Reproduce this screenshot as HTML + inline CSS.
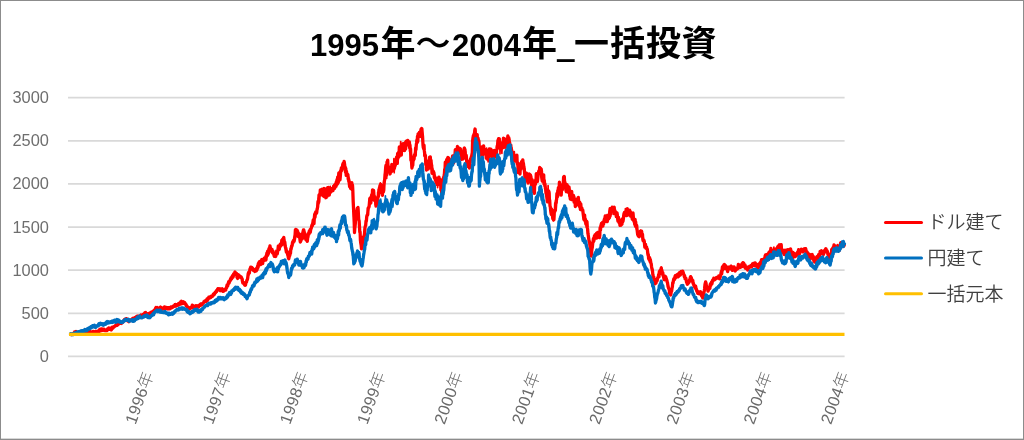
<!DOCTYPE html>
<html lang="ja"><head><meta charset="utf-8"><title>1995年～2004年_一括投資</title>
<style>
html,body{margin:0;padding:0;background:#fff;}
body{width:1024px;height:440px;overflow:hidden;}
svg{display:block;}
text{font-family:"Liberation Sans","Noto Sans CJK JP",sans-serif;}
.ax{font-size:16.4px;fill:#6e6e6e;}
.xl{font-size:16.4px;fill:#6a6a6a;letter-spacing:0.3px;}
.xk{font-weight:300;}
.lg{font-weight:350;font-size:19px;fill:#404040;}
.tn{font-weight:bold;font-size:31px;fill:#000;}
.tk{font-weight:bold;font-size:35px;fill:#000;}
</style></head><body>
<svg width="1024" height="440" viewBox="0 0 1024 440">
<rect x="0.5" y="0.5" width="1023" height="439" fill="#fff" stroke="#8c8c8c" stroke-width="1"/>
<line x1="0" x2="1024" y1="438.8" y2="438.8" stroke="#8c8c8c" stroke-width="0.5"/>
<line x1="68" x2="844.6" y1="97.7" y2="97.7" stroke="#d9d9d9" stroke-width="1.7"/>
<line x1="68" x2="844.6" y1="140.8" y2="140.8" stroke="#d9d9d9" stroke-width="1.7"/>
<line x1="68" x2="844.6" y1="183.95" y2="183.95" stroke="#d9d9d9" stroke-width="1.7"/>
<line x1="68" x2="844.6" y1="227.1" y2="227.1" stroke="#d9d9d9" stroke-width="1.7"/>
<line x1="68" x2="844.6" y1="270.2" y2="270.2" stroke="#d9d9d9" stroke-width="1.7"/>
<line x1="68" x2="844.6" y1="313.35" y2="313.35" stroke="#d9d9d9" stroke-width="1.7"/>
<line x1="68" x2="844.6" y1="356.4" y2="356.4" stroke="#d9d9d9" stroke-width="1.7"/>
<text x="48.9" y="103.1" text-anchor="end" class="ax">3000</text>
<text x="48.9" y="146.2" text-anchor="end" class="ax">2500</text>
<text x="48.9" y="189.3" text-anchor="end" class="ax">2000</text>
<text x="48.9" y="232.5" text-anchor="end" class="ax">1500</text>
<text x="48.9" y="275.6" text-anchor="end" class="ax">1000</text>
<text x="48.9" y="318.8" text-anchor="end" class="ax">500</text>
<text x="48.9" y="361.8" text-anchor="end" class="ax">0</text>
<polyline points="70.6,334.3 70.9,334.6 71.3,334.6 71.6,334.6 71.9,334.6 72.3,334.4 72.6,333.9 72.9,333.8 73.3,333.6 73.6,333.6 73.9,333.0 74.3,333.3 74.6,332.0 75.0,332.2 75.3,333.0 75.6,331.8 76.0,331.4 76.3,332.1 76.6,333.1 77.0,333.1 77.3,332.4 77.6,332.9 78.0,333.0 78.3,333.7 78.6,333.0 79.0,332.8 79.3,333.2 79.6,332.6 80.0,332.6 80.3,333.2 80.6,333.7 81.0,333.0 81.3,332.9 81.7,332.5 82.0,333.3 82.3,333.9 82.7,333.5 83.0,333.4 83.3,333.3 83.7,332.4 84.0,332.4 84.3,333.3 84.7,332.9 85.0,333.0 85.3,333.4 85.7,332.9 86.0,332.8 86.3,332.6 86.6,332.1 87.0,332.4 87.3,332.6 87.6,333.4 88.0,332.3 88.3,332.5 88.6,332.6 88.9,331.8 89.3,331.6 89.6,331.8 89.9,331.2 90.3,332.2 90.6,332.0 90.9,331.7 91.2,332.1 91.6,333.2 91.9,332.6 92.2,331.9 92.6,333.0 92.9,333.1 93.2,331.5 93.6,331.5 93.9,331.8 94.2,332.8 94.5,332.2 94.9,332.5 95.2,332.2 95.5,332.2 95.9,331.3 96.2,332.3 96.5,331.9 96.8,332.0 97.2,331.5 97.5,331.8 97.8,331.9 98.2,331.8 98.5,331.1 98.9,330.5 99.2,330.0 99.5,329.7 99.9,329.3 100.2,329.6 100.6,330.0 100.9,329.6 101.2,329.1 101.6,330.2 101.9,329.2 102.3,329.9 102.6,329.3 103.0,329.8 103.3,329.8 103.6,329.1 104.0,329.3 104.3,330.0 104.7,330.5 105.0,330.5 105.3,330.0 105.7,330.5 106.0,330.0 106.3,330.1 106.7,329.9 107.0,330.5 107.3,329.9 107.7,328.8 108.0,329.6 108.3,328.7 108.7,327.9 109.0,328.3 109.3,329.3 109.7,328.5 110.0,328.9 110.3,328.3 110.7,328.5 111.0,329.4 111.3,329.9 111.7,327.8 112.0,328.4 112.3,327.1 112.7,327.3 113.0,328.1 113.3,327.5 113.7,326.9 114.0,327.1 114.3,326.5 114.7,326.1 115.0,326.0 115.3,326.0 115.7,325.1 116.0,325.1 116.4,325.3 116.7,325.4 117.0,324.8 117.4,324.6 117.7,325.0 118.1,323.9 118.4,324.1 118.8,323.6 119.1,323.1 119.4,322.5 119.8,322.6 120.1,323.4 120.5,323.2 120.8,323.3 121.1,322.8 121.5,323.4 121.8,322.1 122.2,321.9 122.5,322.5 122.8,322.1 123.2,321.1 123.5,321.3 123.8,321.0 124.2,320.8 124.5,319.5 124.8,319.5 125.2,319.4 125.5,318.8 125.8,318.8 126.1,320.0 126.5,318.7 126.8,319.8 127.1,319.0 127.4,320.8 127.8,319.5 128.1,320.0 128.4,321.4 128.7,321.3 129.0,321.7 129.4,320.7 129.7,320.8 130.0,320.5 130.3,320.0 130.7,320.0 131.0,319.7 131.3,319.9 131.7,319.4 132.0,319.2 132.3,319.1 132.7,318.4 133.0,319.3 133.3,319.1 133.7,318.1 134.0,318.2 134.3,318.6 134.7,318.8 135.0,318.5 135.3,317.4 135.7,318.0 136.0,316.9 136.3,316.7 136.7,317.0 137.0,317.4 137.3,316.1 137.7,316.8 138.0,317.0 138.3,316.3 138.7,316.9 139.0,317.1 139.3,316.2 139.7,315.9 140.0,316.0 140.3,316.1 140.7,315.6 141.0,315.0 141.4,315.1 141.7,315.5 142.0,314.9 142.4,314.9 142.7,314.6 143.1,315.3 143.4,315.7 143.8,314.5 144.1,314.9 144.4,313.9 144.8,312.8 145.1,312.6 145.5,312.5 145.8,313.8 146.1,314.1 146.5,313.8 146.8,314.5 147.2,314.3 147.5,313.8 147.8,314.0 148.2,314.3 148.5,314.2 148.8,315.0 149.2,314.4 149.5,314.2 149.8,314.6 150.2,314.4 150.5,313.6 150.8,312.8 151.2,312.6 151.5,312.1 151.8,312.8 152.2,312.4 152.5,312.5 152.8,312.5 153.2,311.2 153.6,310.9 153.9,311.0 154.2,310.1 154.6,310.0 154.9,310.1 155.3,308.9 155.7,308.1 156.0,307.5 156.3,307.9 156.7,307.8 157.0,307.6 157.3,308.3 157.6,308.1 157.9,308.3 158.3,309.2 158.6,309.6 158.9,308.8 159.2,308.3 159.6,308.1 159.9,307.6 160.2,307.8 160.6,307.1 160.9,307.8 161.2,308.2 161.5,308.7 161.8,308.7 162.2,309.2 162.5,308.8 162.8,308.8 163.2,308.8 163.5,307.6 163.9,307.3 164.2,308.0 164.5,306.9 164.9,307.1 165.2,308.6 165.6,307.7 165.9,307.8 166.2,308.5 166.6,308.5 166.9,307.5 167.3,308.6 167.6,308.8 168.0,308.9 168.3,307.6 168.6,307.7 169.0,307.6 169.3,308.4 169.7,308.1 170.0,308.8 170.3,308.4 170.7,308.0 171.0,307.0 171.4,307.4 171.7,306.9 172.0,307.8 172.4,306.7 172.7,307.3 173.1,307.0 173.4,306.5 173.8,305.6 174.1,305.8 174.4,306.1 174.8,305.2 175.1,304.6 175.5,304.4 175.8,305.4 176.1,306.1 176.5,305.8 176.8,304.8 177.2,305.4 177.5,305.0 177.8,304.7 178.2,305.1 178.5,303.6 178.9,303.3 179.2,303.3 179.5,303.9 179.9,302.8 180.2,303.5 180.6,303.1 180.9,301.6 181.2,303.1 181.6,301.3 181.9,301.6 182.3,302.5 182.6,302.1 183.0,302.1 183.3,301.8 183.6,302.3 184.0,303.3 184.3,303.0 184.7,302.5 185.0,303.8 185.3,303.6 185.7,304.0 186.0,304.3 186.3,306.1 186.7,306.0 187.0,306.0 187.3,306.8 187.7,307.5 188.0,307.8 188.3,307.3 188.7,307.6 189.0,308.2 189.3,307.9 189.7,308.5 190.0,308.8 190.3,308.1 190.7,308.1 191.0,307.4 191.3,307.0 191.7,307.2 192.0,306.8 192.3,305.1 192.7,306.8 193.0,306.3 193.3,308.0 193.7,307.0 194.0,306.2 194.3,306.8 194.7,307.2 195.0,306.6 195.3,305.9 195.7,305.7 196.0,306.0 196.3,306.2 196.7,306.2 197.0,305.8 197.3,306.4 197.7,306.2 198.0,306.3 198.3,306.8 198.7,307.0 199.0,306.3 199.3,305.3 199.7,305.5 200.0,305.5 200.3,304.8 200.7,304.1 201.0,304.7 201.3,304.0 201.7,305.0 202.0,304.8 202.3,304.4 202.7,303.5 203.0,303.3 203.3,303.2 203.7,302.3 204.0,301.5 204.3,301.3 204.7,301.0 205.0,301.0 205.3,301.1 205.7,301.6 206.0,301.7 206.4,301.2 206.7,299.8 207.0,299.0 207.4,300.7 207.7,300.0 208.1,298.6 208.4,298.7 208.8,297.2 209.1,297.4 209.4,298.0 209.8,297.9 210.1,297.4 210.5,297.5 210.8,296.5 211.1,296.8 211.5,296.9 211.8,296.1 212.2,296.0 212.5,296.0 212.8,296.2 213.2,294.4 213.5,294.0 213.8,294.2 214.1,294.4 214.4,294.5 214.8,293.5 215.1,292.4 215.4,292.5 215.8,292.2 216.1,291.3 216.4,290.7 216.7,291.0 217.1,290.4 217.4,289.5 217.7,289.9 218.0,288.6 218.3,289.2 218.7,289.5 219.0,289.0 219.3,289.9 219.7,289.2 220.0,289.4 220.3,290.7 220.7,290.2 221.0,290.5 221.3,289.3 221.7,289.2 222.0,289.4 222.3,288.7 222.7,289.9 223.0,291.3 223.3,290.7 223.7,291.0 224.0,291.0 224.3,290.2 224.7,290.1 225.0,289.5 225.3,289.2 225.7,290.1 226.0,288.4 226.3,287.9 226.7,287.6 227.0,285.1 227.3,285.5 227.7,286.0 228.0,283.9 228.3,283.2 228.7,281.7 229.0,283.2 229.3,282.5 229.7,280.9 230.0,281.0 230.3,279.5 230.7,280.1 231.0,277.9 231.3,277.8 231.7,278.8 232.0,276.7 232.3,276.3 232.7,275.6 233.0,277.2 233.3,276.3 233.7,273.7 234.0,273.6 234.3,273.4 234.7,272.7 235.0,272.0 235.3,272.5 235.7,273.8 236.0,274.3 236.3,273.3 236.7,274.2 237.0,277.3 237.3,277.7 237.7,278.4 238.0,276.1 238.3,277.0 238.7,275.9 239.0,276.3 239.3,276.1 239.7,277.1 240.0,276.0 240.3,276.5 240.7,277.1 241.0,276.7 241.4,277.6 241.7,278.1 242.1,278.7 242.4,281.0 242.8,283.0 243.1,282.9 243.4,283.2 243.8,282.9 244.1,283.6 244.5,284.7 244.8,285.2 245.2,285.3 245.5,285.0 245.8,283.4 246.2,282.1 246.5,282.1 246.9,280.1 247.2,279.9 247.6,278.8 247.9,276.3 248.2,273.7 248.6,272.5 248.9,272.8 249.3,273.2 249.6,271.2 250.0,268.8 250.3,269.1 250.7,267.1 251.0,267.5 251.3,267.7 251.7,268.0 252.0,267.6 252.3,269.2 252.7,268.9 253.0,268.6 253.3,270.4 253.7,270.5 254.0,270.4 254.3,270.5 254.7,271.5 255.0,271.0 255.3,270.6 255.7,270.4 256.0,271.0 256.3,270.9 256.7,268.1 257.0,269.9 257.3,268.5 257.7,265.8 258.0,267.7 258.3,263.5 258.7,265.2 259.0,262.7 259.3,261.9 259.7,261.5 260.0,262.5 260.3,263.7 260.7,264.5 261.0,262.8 261.3,262.8 261.7,259.7 262.0,261.2 262.3,259.5 262.7,263.7 263.0,260.5 263.3,260.3 263.7,260.1 264.0,259.0 264.3,259.6 264.7,258.1 265.0,258.8 265.3,257.8 265.7,260.1 266.0,259.6 266.3,255.4 266.7,256.3 267.0,253.7 267.3,252.4 267.7,255.2 268.0,252.7 268.3,253.9 268.7,252.3 269.0,251.2 269.3,249.1 269.7,248.1 270.0,246.0 270.3,249.4 270.7,249.8 271.0,250.7 271.3,249.5 271.7,249.4 272.0,249.4 272.3,252.4 272.7,253.0 273.0,251.2 273.3,253.6 273.7,254.2 274.0,255.2 274.3,256.4 274.7,256.4 275.0,256.0 275.3,256.0 275.7,256.4 276.0,254.5 276.3,253.1 276.7,250.9 277.0,253.6 277.3,253.7 277.7,251.1 278.0,249.2 278.3,246.1 278.7,245.9 279.0,249.1 279.3,249.4 279.7,246.2 280.0,245.0 280.3,244.1 280.7,246.1 281.0,244.1 281.4,245.3 281.7,243.6 282.0,244.8 282.4,242.8 282.7,241.5 283.1,241.9 283.4,238.3 283.8,237.5 284.1,242.0 284.4,242.0 284.8,242.0 285.1,245.6 285.4,247.1 285.8,248.7 286.1,250.5 286.4,252.1 286.8,251.0 287.1,252.4 287.4,253.3 287.8,255.2 288.1,255.9 288.4,258.0 288.8,258.8 289.1,257.3 289.4,255.1 289.8,255.4 290.1,251.3 290.5,253.4 290.8,248.6 291.1,249.2 291.5,246.2 291.8,246.6 292.2,245.3 292.5,242.5 292.8,243.2 293.1,241.2 293.5,241.8 293.8,240.3 294.1,241.4 294.4,239.9 294.8,237.5 295.1,234.8 295.4,229.8 295.7,229.4 296.0,232.6 296.4,230.9 296.7,230.9 297.0,230.0 297.3,233.1 297.7,231.4 298.0,236.3 298.3,233.6 298.7,236.8 299.0,234.2 299.3,234.0 299.7,236.7 300.0,240.0 300.3,242.0 300.7,241.2 301.0,240.3 301.4,237.6 301.7,236.4 302.0,239.1 302.4,233.6 302.7,234.0 303.1,231.3 303.4,230.0 303.8,230.0 304.1,231.7 304.4,237.8 304.7,235.1 305.0,233.7 305.4,237.4 305.7,238.7 306.0,240.0 306.3,240.1 306.7,239.3 307.0,237.4 307.3,241.4 307.7,237.5 308.0,236.9 308.3,234.4 308.7,232.8 309.0,234.1 309.3,230.9 309.7,231.7 310.0,230.0 310.3,232.3 310.7,229.4 311.0,228.8 311.3,228.0 311.7,226.0 312.0,225.0 312.3,225.9 312.7,223.8 313.0,221.6 313.3,219.8 313.7,222.5 314.0,223.7 314.3,218.3 314.7,214.1 315.0,217.4 315.3,213.1 315.7,212.0 316.0,213.8 316.3,212.1 316.7,212.9 317.0,209.8 317.3,208.7 317.7,206.6 318.0,201.6 318.3,201.0 318.7,202.5 319.0,195.1 319.3,194.6 319.7,194.2 320.0,194.9 320.3,189.9 320.7,189.9 321.0,190.0 321.3,191.1 321.7,194.2 322.0,189.1 322.3,191.9 322.7,195.7 323.0,194.9 323.3,191.7 323.7,196.1 324.0,188.5 324.3,191.4 324.7,192.5 325.0,195.5 325.3,191.8 325.7,193.7 326.0,195.0 326.3,191.6 326.7,194.1 327.0,188.3 327.3,191.7 327.7,187.6 328.0,189.3 328.3,189.1 328.7,187.5 329.0,189.9 329.3,195.0 329.7,190.4 330.0,190.4 330.3,192.6 330.7,189.2 331.0,188.8 331.3,191.5 331.7,189.6 332.0,189.1 332.3,188.6 332.7,188.9 333.0,190.6 333.3,188.0 333.7,188.7 334.0,186.5 334.3,186.0 334.7,188.4 335.0,185.5 335.3,185.6 335.7,186.3 336.0,185.0 336.3,181.9 336.7,183.6 337.0,179.5 337.3,182.6 337.7,176.9 338.0,183.0 338.3,182.5 338.7,175.1 339.0,173.0 339.3,176.0 339.7,179.7 340.0,179.8 340.3,176.6 340.7,171.8 341.0,171.0 341.4,167.8 341.7,170.3 342.1,168.4 342.4,167.0 342.8,164.5 343.1,163.5 343.4,164.9 343.8,163.4 344.1,161.4 344.5,163.5 344.8,168.4 345.2,168.3 345.5,172.4 345.8,168.4 346.2,175.3 346.5,171.4 346.8,173.9 347.2,175.5 347.5,175.0 347.9,174.6 348.2,179.2 348.6,179.1 348.9,181.7 349.2,182.6 349.6,186.5 349.9,186.9 350.3,186.9 350.6,188.4 351.0,187.0 351.4,187.6 351.8,182.6 352.1,189.7 352.5,185.0 352.8,190.1 353.2,201.9 353.5,207.9 353.8,214.0 354.2,222.5 354.5,232.5 354.9,226.6 355.2,224.0 355.6,219.3 355.9,216.8 356.2,218.7 356.6,216.6 356.9,210.7 357.3,208.4 357.6,212.2 358.0,207.5 358.4,214.3 358.7,219.4 359.1,220.7 359.4,225.3 359.8,232.1 360.1,231.8 360.4,240.0 360.8,243.4 361.1,244.8 361.5,248.8 361.9,248.0 362.2,246.9 362.6,243.1 362.9,240.3 363.2,237.2 363.6,239.5 363.9,237.6 364.3,235.6 364.6,232.6 365.0,227.5 365.3,226.2 365.7,225.3 366.0,221.1 366.4,220.9 366.7,216.8 367.0,215.3 367.4,215.3 367.7,214.6 368.1,208.4 368.4,207.7 368.8,207.5 369.1,206.5 369.4,203.3 369.8,198.5 370.1,198.0 370.5,199.0 370.8,203.1 371.1,200.0 371.5,196.0 371.8,194.7 372.2,197.6 372.5,190.0 372.9,192.0 373.2,194.1 373.6,190.3 373.9,194.5 374.2,200.1 374.6,196.3 374.9,197.7 375.3,199.4 375.6,201.0 376.0,206.0 376.3,205.9 376.7,204.5 377.0,201.0 377.3,203.4 377.7,199.1 378.0,197.2 378.3,196.8 378.7,194.1 379.0,192.4 379.3,188.2 379.7,189.0 380.0,185.5 380.3,186.8 380.7,184.5 381.0,185.4 381.4,188.4 381.7,192.6 382.0,191.4 382.4,195.4 382.7,186.1 383.1,191.2 383.4,191.9 383.8,190.0 384.1,182.8 384.4,180.9 384.7,179.6 385.0,175.0 385.3,172.6 385.7,167.3 386.0,165.3 386.4,165.4 386.7,168.8 387.0,161.9 387.4,165.2 387.7,160.1 388.0,166.4 388.4,171.9 388.7,166.8 389.1,168.2 389.4,170.0 389.7,172.0 390.1,174.0 390.4,168.6 390.8,167.6 391.1,170.9 391.5,171.8 391.8,164.3 392.2,167.4 392.5,167.5 392.8,168.2 393.2,165.8 393.5,170.3 393.9,164.7 394.2,168.5 394.5,167.8 394.9,165.4 395.2,165.7 395.6,162.8 395.9,159.0 396.2,161.2 396.6,156.9 396.9,158.2 397.3,163.4 397.6,153.5 398.0,158.5 398.3,152.7 398.6,156.8 399.0,156.7 399.3,147.0 399.7,147.9 400.0,147.5 400.3,149.4 400.7,152.2 401.0,150.4 401.3,155.2 401.7,148.9 402.0,146.8 402.3,144.2 402.7,150.7 403.0,145.6 403.3,146.0 403.6,150.1 404.0,144.9 404.3,144.8 404.6,150.5 404.9,144.4 405.2,142.9 405.6,149.1 405.9,146.3 406.2,141.1 406.5,144.7 406.9,141.7 407.2,145.0 407.5,142.5 407.8,140.5 408.1,140.8 408.4,144.4 408.8,142.9 409.1,144.7 409.4,142.0 409.7,148.2 410.0,145.0 410.3,151.1 410.6,148.9 410.9,160.2 411.3,158.3 411.6,163.0 411.9,168.0 412.2,166.6 412.5,164.7 412.8,165.1 413.1,159.1 413.5,160.3 413.8,156.7 414.1,159.2 414.4,155.0 414.7,154.7 415.0,154.6 415.3,155.4 415.6,148.0 416.0,149.6 416.3,144.8 416.6,142.8 416.9,140.0 417.2,142.6 417.5,136.2 417.8,141.5 418.1,134.0 418.5,133.6 418.8,134.8 419.1,135.2 419.4,132.5 419.7,133.6 420.0,134.9 420.3,136.5 420.6,133.0 421.0,132.9 421.3,132.6 421.6,128.4 421.9,128.8 422.3,133.9 422.6,137.0 423.0,145.0 423.3,147.5 423.7,148.7 424.0,145.2 424.3,150.4 424.7,153.7 425.0,156.2 425.4,155.2 425.8,164.8 426.1,164.1 426.5,170.0 426.9,167.6 427.2,166.2 427.6,166.5 427.9,164.9 428.2,169.1 428.6,160.6 428.9,164.5 429.3,161.4 429.6,157.2 430.0,159.0 430.3,156.8 430.7,163.7 431.0,160.2 431.3,168.5 431.7,165.1 432.0,173.3 432.3,171.5 432.7,171.5 433.0,171.0 433.3,172.3 433.6,171.9 434.0,173.1 434.3,177.5 434.6,176.2 434.9,177.4 435.3,180.0 435.6,178.0 435.9,181.9 436.2,182.5 436.6,182.9 436.9,184.3 437.3,183.5 437.6,182.6 438.0,184.7 438.3,184.2 438.7,179.4 439.0,177.2 439.4,180.0 439.7,181.1 440.0,182.2 440.3,179.5 440.6,180.3 440.9,182.7 441.2,190.0 441.6,189.2 441.9,192.0 442.3,188.6 442.6,186.3 443.0,184.6 443.3,183.9 443.7,177.1 444.0,175.9 444.4,174.0 444.7,169.1 445.0,171.1 445.3,162.1 445.6,166.3 446.0,169.2 446.3,161.9 446.6,160.0 446.9,160.0 447.2,159.4 447.6,164.0 447.9,157.3 448.3,162.9 448.6,157.8 449.0,160.7 449.3,159.4 449.7,159.4 450.0,164.0 450.3,165.7 450.6,162.9 450.9,165.8 451.3,165.2 451.6,162.8 451.9,163.8 452.2,160.3 452.6,155.9 452.9,163.5 453.3,162.8 453.6,163.0 454.0,157.1 454.3,158.8 454.7,157.1 455.0,154.5 455.3,149.6 455.7,151.7 456.0,150.5 456.4,152.2 456.7,151.9 457.0,154.1 457.4,146.5 457.7,149.1 458.0,148.4 458.4,149.5 458.7,149.5 459.1,148.2 459.4,148.8 459.7,150.5 460.0,150.8 460.3,148.7 460.6,149.9 460.9,154.7 461.2,152.5 461.6,159.4 461.9,153.7 462.2,157.7 462.5,157.0 462.8,158.3 463.1,158.9 463.4,153.4 463.8,157.7 464.1,148.5 464.4,148.1 464.7,151.6 465.0,149.5 465.3,154.2 465.6,157.9 465.9,155.1 466.2,155.2 466.6,159.9 466.9,164.7 467.2,163.4 467.5,163.2 467.8,161.2 468.1,166.6 468.4,164.0 468.8,165.8 469.1,161.4 469.4,168.0 469.7,166.3 470.0,163.0 470.3,160.7 470.6,158.8 470.9,158.4 471.3,157.0 471.6,158.4 471.9,154.5 472.3,152.5 472.6,141.0 473.0,137.8 473.4,135.6 473.7,137.8 474.1,133.9 474.4,135.9 474.8,130.2 475.1,129.0 475.5,136.2 475.8,140.5 476.2,141.2 476.5,139.3 476.9,136.5 477.2,134.7 477.5,139.8 477.8,143.5 478.1,138.2 478.4,142.2 478.8,140.5 479.1,145.2 479.4,151.3 479.7,147.1 480.0,152.5 480.3,149.3 480.7,151.6 481.0,154.6 481.3,148.6 481.7,153.4 482.0,157.4 482.3,153.1 482.7,155.0 483.0,151.5 483.3,147.3 483.6,145.9 484.0,149.4 484.3,151.2 484.6,149.8 485.0,150.0 485.3,153.7 485.6,150.5 485.9,149.7 486.2,158.2 486.6,157.0 486.9,153.2 487.2,153.0 487.5,157.0 487.8,156.5 488.1,150.4 488.4,157.5 488.8,152.8 489.1,151.8 489.4,148.8 489.7,149.8 490.0,151.5 490.3,156.1 490.7,149.2 491.0,150.7 491.3,155.0 491.7,152.5 492.0,151.0 492.3,157.3 492.7,152.1 493.0,153.8 493.3,154.9 493.6,161.3 494.0,161.3 494.3,150.4 494.6,151.9 495.0,151.0 495.3,153.4 495.6,156.0 495.9,155.2 496.2,156.4 496.6,150.4 496.9,148.5 497.2,146.0 497.5,146.0 497.9,140.7 498.2,140.1 498.6,138.7 499.0,140.5 499.3,138.8 499.6,147.4 500.0,145.1 500.3,148.0 500.6,148.0 500.9,142.8 501.2,146.3 501.6,143.2 501.9,147.6 502.2,148.0 502.5,146.8 502.8,145.0 503.1,146.0 503.4,138.2 503.8,142.8 504.1,141.5 504.4,143.0 504.7,139.5 505.0,141.9 505.3,145.0 505.6,141.2 506.0,144.9 506.3,146.4 506.6,146.7 506.9,143.0 507.2,141.7 507.5,141.0 507.8,136.0 508.1,137.1 508.5,143.1 508.8,137.7 509.1,143.4 509.4,141.8 509.7,144.5 510.0,144.6 510.3,148.3 510.6,152.1 510.9,150.5 511.2,148.0 511.6,150.2 511.9,151.5 512.3,159.7 512.6,153.9 513.0,155.5 513.3,152.8 513.7,154.4 514.0,158.7 514.3,161.0 514.7,157.4 515.0,156.8 515.3,155.9 515.6,157.5 515.9,159.7 516.2,159.8 516.6,160.3 516.9,155.2 517.2,164.0 517.5,163.0 517.8,162.8 518.1,172.5 518.5,163.7 518.8,168.1 519.1,166.8 519.4,169.2 519.7,171.6 520.0,174.0 520.3,167.2 520.6,169.6 520.9,166.8 521.2,164.2 521.6,161.7 521.9,162.0 522.2,164.8 522.5,161.5 522.8,159.8 523.1,162.8 523.4,163.1 523.8,166.8 524.1,169.1 524.4,170.8 524.7,173.8 525.0,179.9 525.3,178.5 525.6,175.5 525.9,178.8 526.2,175.4 526.5,173.1 526.9,181.2 527.2,176.7 527.5,180.0 527.8,180.1 528.1,183.0 528.4,177.7 528.8,181.5 529.1,174.0 529.4,180.1 529.7,178.6 530.0,175.0 530.3,176.8 530.6,175.4 530.9,177.3 531.2,178.4 531.6,187.1 531.9,188.0 532.2,179.7 532.5,184.5 532.8,187.7 533.1,191.6 533.4,185.9 533.8,192.0 534.1,188.3 534.4,193.3 534.7,183.2 535.0,184.8 535.3,184.4 535.6,180.0 536.0,181.3 536.3,173.6 536.6,178.3 537.0,179.5 537.4,181.6 537.7,179.4 538.0,175.6 538.4,173.3 538.8,171.5 539.1,170.6 539.4,170.9 539.7,167.3 540.0,169.1 540.3,169.3 540.6,171.7 540.9,168.9 541.2,169.0 541.6,176.7 542.0,179.6 542.3,181.2 542.6,179.6 543.0,177.5 543.3,179.0 543.7,174.9 544.0,183.9 544.3,180.3 544.7,185.5 545.0,183.8 545.3,188.0 545.6,188.7 546.0,193.3 546.3,189.6 546.6,193.7 546.9,197.5 547.2,200.4 547.5,201.9 547.8,200.4 548.1,201.3 548.4,192.2 548.8,191.2 549.1,193.2 549.4,199.7 549.7,200.3 550.0,205.9 550.3,206.8 550.6,210.0 550.9,212.0 551.2,214.2 551.5,208.9 551.9,212.8 552.2,211.5 552.5,216.0 552.8,218.8 553.2,215.6 553.5,220.0 553.9,219.7 554.2,213.4 554.6,210.4 555.0,211.2 555.3,210.0 555.6,203.0 555.9,203.1 556.2,200.8 556.6,199.5 556.9,193.5 557.2,197.3 557.5,196.2 557.8,190.3 558.1,191.6 558.4,187.6 558.8,187.2 559.1,191.5 559.4,182.2 559.7,186.4 560.0,189.4 560.3,189.5 560.6,186.2 560.9,192.5 561.2,195.2 561.6,188.4 561.9,190.2 562.2,185.6 562.5,188.8 562.9,183.7 563.2,185.8 563.6,177.0 564.0,177.5 564.3,176.5 564.6,182.1 565.0,182.4 565.3,185.0 565.6,187.5 565.9,190.0 566.3,191.7 566.6,189.2 567.0,184.6 567.3,190.2 567.7,185.8 568.0,188.8 568.3,189.9 568.7,192.7 569.0,186.9 569.3,189.4 569.7,196.1 570.0,196.2 570.3,199.0 570.7,197.1 571.0,195.5 571.4,199.5 571.7,191.3 572.0,196.8 572.4,199.6 572.7,198.0 573.1,199.5 573.4,195.4 573.8,196.5 574.1,202.2 574.4,199.0 574.7,199.6 575.0,199.1 575.3,206.5 575.6,206.1 575.9,200.8 576.2,202.0 576.6,201.5 576.9,204.7 577.3,202.1 577.6,204.7 578.0,197.8 578.3,197.4 578.7,202.2 579.0,204.5 579.4,206.3 579.7,202.2 580.0,205.9 580.4,209.6 580.8,203.8 581.1,208.9 581.5,209.6 581.8,207.8 582.1,209.4 582.5,210.0 582.8,210.2 583.2,214.1 583.5,216.2 583.9,219.6 584.2,216.9 584.6,215.2 584.9,220.9 585.3,218.8 585.6,222.5 585.9,224.2 586.3,224.2 586.6,221.1 587.0,222.0 587.3,227.2 587.7,229.8 588.0,233.8 588.3,235.6 588.7,238.4 589.0,240.6 589.3,241.5 589.7,242.8 590.0,246.2 590.3,251.1 590.6,251.6 590.9,254.0 591.2,256.0 591.6,252.0 592.0,248.6 592.4,246.7 592.8,242.5 593.1,241.4 593.4,238.6 593.7,241.4 594.0,240.1 594.4,235.9 594.7,236.5 595.0,235.0 595.3,236.2 595.7,234.4 596.0,236.4 596.4,234.8 596.7,238.1 597.0,234.6 597.4,234.8 597.7,232.5 598.1,233.5 598.4,235.9 598.8,235.0 599.1,235.9 599.5,237.6 599.8,235.3 600.1,227.7 600.5,230.2 600.9,225.3 601.2,224.4 601.5,223.4 601.9,223.8 602.2,225.5 602.6,222.9 602.9,226.2 603.2,222.2 603.6,223.9 603.9,221.9 604.3,219.3 604.6,221.4 604.9,218.0 605.3,215.8 605.6,218.8 605.9,220.7 606.3,218.6 606.6,221.6 607.0,219.4 607.3,221.6 607.7,218.5 608.0,215.5 608.4,216.2 608.7,218.8 609.1,215.9 609.4,216.2 609.7,211.5 610.1,208.7 610.4,212.9 610.8,211.2 611.1,211.3 611.5,209.7 611.8,210.8 612.2,207.1 612.5,208.5 612.8,208.3 613.2,211.4 613.5,207.4 613.9,213.6 614.2,207.1 614.6,212.5 614.9,210.5 615.3,212.0 615.6,213.8 616.0,212.5 616.3,216.6 616.6,214.5 617.0,212.8 617.4,215.6 617.7,219.0 618.0,221.3 618.4,217.1 618.8,220.0 619.1,222.8 619.4,222.3 619.7,221.4 620.0,225.3 620.3,220.9 620.6,221.8 620.9,224.3 621.2,225.0 621.6,223.7 622.0,224.1 622.3,218.8 622.6,222.0 623.0,221.3 623.4,218.8 623.7,215.6 624.0,213.5 624.4,212.5 624.7,213.0 625.1,214.0 625.4,212.3 625.7,213.3 626.0,215.5 626.4,212.5 626.7,215.0 627.0,215.4 627.3,208.6 627.7,214.2 628.0,211.5 628.3,214.8 628.6,213.0 629.0,214.9 629.3,210.3 629.6,210.2 630.0,212.1 630.3,211.4 630.6,216.2 630.9,213.4 631.2,213.8 631.6,215.2 632.0,217.5 632.3,219.3 632.6,218.9 633.0,212.9 633.4,217.6 633.7,220.2 634.0,221.3 634.4,221.2 634.7,224.4 635.1,219.4 635.4,226.1 635.7,221.8 636.0,226.7 636.4,225.0 636.7,225.6 637.0,229.1 637.3,231.6 637.7,234.9 638.0,235.0 638.3,235.9 638.6,232.9 639.0,236.3 639.3,236.7 639.6,235.5 640.0,235.2 640.3,231.2 640.6,233.2 640.9,230.9 641.2,231.2 641.6,231.2 641.9,232.9 642.2,234.1 642.5,234.3 642.8,239.1 643.1,240.8 643.4,240.5 643.8,240.0 644.1,240.9 644.5,243.5 644.8,247.2 645.1,246.2 645.5,244.4 645.9,248.4 646.2,247.1 646.5,246.8 646.9,248.8 647.3,249.1 647.6,251.7 648.0,255.0 648.3,254.5 648.6,258.4 649.0,259.5 649.3,258.9 649.6,257.7 650.0,261.7 650.3,259.4 650.6,261.2 650.9,263.2 651.2,263.8 651.5,266.2 651.9,268.8 652.2,269.1 652.5,271.2 652.8,274.3 653.1,276.2 653.4,277.6 653.8,277.1 654.1,280.0 654.4,279.1 654.7,282.0 655.0,283.8 655.3,282.2 655.7,281.8 656.0,283.1 656.3,279.4 656.7,280.4 657.0,281.1 657.3,280.1 657.7,277.7 658.0,277.5 658.3,277.1 658.6,274.6 659.0,276.8 659.3,271.7 659.6,274.1 660.0,270.7 660.3,272.0 660.6,271.1 660.9,269.5 661.2,268.0 661.6,269.8 661.9,270.2 662.2,273.3 662.5,273.8 662.8,272.6 663.1,275.6 663.4,276.1 663.8,278.0 664.1,279.7 664.4,279.3 664.7,279.7 665.0,277.3 665.3,276.3 665.6,278.5 665.9,277.2 666.2,278.8 666.6,280.2 666.9,280.2 667.2,282.2 667.5,282.7 667.8,284.7 668.1,286.7 668.4,287.6 668.8,288.8 669.1,289.0 669.4,291.0 669.7,293.7 670.0,293.8 670.3,294.2 670.6,295.0 671.0,293.5 671.3,290.7 671.6,291.2 672.0,288.3 672.4,286.7 672.7,282.7 673.0,283.2 673.4,280.9 673.8,278.8 674.1,279.2 674.4,278.5 674.8,279.1 675.1,276.1 675.5,275.5 675.8,277.6 676.1,275.6 676.5,275.7 676.8,276.5 677.2,274.8 677.5,275.6 677.8,275.1 678.2,276.9 678.5,275.8 678.9,273.2 679.2,272.9 679.6,273.0 679.9,272.5 680.3,275.1 680.6,273.8 680.9,272.3 681.3,271.4 681.6,272.8 682.0,271.5 682.3,271.3 682.7,271.2 683.0,271.9 683.3,272.9 683.6,274.3 684.0,274.7 684.3,276.7 684.6,275.6 685.0,278.8 685.3,278.8 685.6,278.8 685.9,278.2 686.3,280.7 686.6,282.5 687.0,281.8 687.3,284.3 687.7,282.8 688.0,283.8 688.3,282.2 688.6,281.4 689.0,282.4 689.3,281.7 689.6,279.7 690.0,280.0 690.3,277.3 690.6,276.6 690.9,278.1 691.2,277.5 691.6,278.6 691.9,280.1 692.2,281.2 692.5,280.8 692.8,280.5 693.1,283.6 693.4,283.1 693.8,285.0 694.1,286.2 694.4,286.0 694.8,287.2 695.1,286.5 695.5,286.0 695.8,287.0 696.1,289.4 696.5,289.2 696.8,291.2 697.2,290.8 697.5,292.5 697.8,293.4 698.2,293.3 698.5,291.8 698.9,293.5 699.2,293.1 699.6,293.9 699.9,291.9 700.3,291.7 700.6,291.9 700.9,292.2 701.3,294.3 701.6,295.9 702.0,295.2 702.3,296.9 702.7,298.0 703.0,298.0 703.3,295.8 703.6,294.6 704.0,292.2 704.3,290.7 704.6,288.7 705.0,284.3 705.3,283.1 705.6,281.9 705.9,282.6 706.3,284.9 706.6,286.3 707.0,286.8 707.3,288.6 707.7,289.5 708.0,291.2 708.3,290.2 708.6,289.6 709.0,289.0 709.3,288.1 709.6,288.4 709.9,288.4 710.2,284.5 710.6,283.7 710.9,285.4 711.2,283.2 711.5,282.2 711.9,283.9 712.2,282.4 712.5,280.6 712.8,279.9 713.2,279.9 713.5,279.4 713.8,278.1 714.2,280.0 714.5,279.0 714.8,278.8 715.2,278.8 715.5,279.0 715.8,278.5 716.2,278.3 716.5,277.4 716.8,277.4 717.2,277.2 717.5,277.5 717.8,277.4 718.1,278.1 718.4,277.6 718.8,276.0 719.1,276.7 719.4,277.8 719.7,278.9 720.0,278.0 720.3,275.9 720.7,275.0 721.0,273.2 721.4,271.3 721.7,273.9 722.0,270.8 722.4,266.9 722.7,270.1 723.1,267.5 723.4,266.0 723.8,265.0 724.1,265.9 724.5,264.5 724.8,268.3 725.1,266.9 725.5,265.6 725.9,266.3 726.2,268.1 726.5,268.1 726.9,269.4 727.2,268.5 727.6,271.6 727.9,270.2 728.3,267.2 728.6,268.7 729.0,267.7 729.3,267.6 729.7,268.8 730.0,267.6 730.3,268.0 730.7,267.1 731.0,266.1 731.3,266.3 731.7,269.0 732.0,269.2 732.3,270.4 732.7,267.1 733.0,269.8 733.3,270.0 733.7,269.3 734.0,266.8 734.3,267.7 734.7,270.3 735.0,270.1 735.3,271.0 735.7,268.6 736.0,269.2 736.4,269.5 736.7,268.1 737.0,268.1 737.4,268.8 737.7,268.6 738.0,267.1 738.4,264.3 738.7,266.2 739.1,266.1 739.4,266.4 739.7,266.0 740.1,267.5 740.4,265.4 740.7,266.7 741.0,265.6 741.4,266.3 741.7,266.7 742.0,264.0 742.3,264.9 742.7,263.9 743.0,262.6 743.3,263.6 743.6,262.9 744.0,264.6 744.3,266.0 744.6,267.0 745.0,264.9 745.3,268.0 745.6,267.8 745.9,267.4 746.2,266.9 746.6,267.3 746.9,268.9 747.2,267.5 747.6,270.1 747.9,267.3 748.2,268.8 748.6,268.3 748.9,266.6 749.3,267.7 749.6,267.5 749.9,266.1 750.3,266.5 750.6,265.8 751.0,265.5 751.3,265.3 751.6,267.1 752.0,266.3 752.4,263.9 752.7,264.8 753.0,264.8 753.4,263.4 753.8,263.9 754.1,264.7 754.5,263.4 754.8,265.8 755.1,262.9 755.5,264.5 755.9,263.7 756.2,265.7 756.5,266.2 756.9,266.4 757.2,266.3 757.6,264.9 757.9,266.6 758.2,268.1 758.6,264.4 758.9,266.3 759.3,265.1 759.6,266.3 759.9,263.1 760.3,264.7 760.6,262.6 761.0,263.7 761.3,260.5 761.6,259.6 762.0,259.9 762.4,263.0 762.7,259.9 763.0,259.5 763.4,259.3 763.8,259.5 764.1,261.6 764.4,259.9 764.8,258.7 765.1,256.1 765.5,255.0 765.8,255.8 766.1,255.9 766.5,254.8 766.8,256.3 767.2,254.5 767.5,254.5 767.8,254.9 768.2,254.6 768.5,256.2 768.9,255.1 769.2,252.3 769.5,254.4 769.9,252.9 770.2,251.2 770.5,252.4 770.9,248.3 771.2,250.7 771.6,250.3 771.9,250.8 772.2,251.5 772.6,250.9 772.9,251.9 773.2,251.3 773.6,251.4 773.9,253.9 774.2,249.9 774.6,250.5 774.9,249.5 775.2,249.3 775.6,250.9 775.9,249.6 776.2,250.1 776.6,251.0 776.9,248.5 777.3,247.8 777.6,249.6 777.9,246.3 778.3,249.4 778.6,246.0 778.9,248.4 779.3,245.6 779.6,244.9 779.9,248.0 780.3,246.0 780.6,245.1 780.9,245.9 781.2,244.7 781.5,249.7 781.9,250.7 782.2,251.3 782.5,252.0 782.8,252.2 783.2,252.6 783.5,252.0 783.9,250.4 784.2,254.3 784.5,252.1 784.9,251.0 785.2,250.2 785.6,252.0 785.9,255.0 786.2,253.2 786.6,253.1 786.9,250.0 787.2,249.8 787.6,252.9 787.9,250.4 788.2,250.2 788.6,253.2 788.9,249.7 789.2,249.4 789.6,252.2 789.9,252.8 790.2,253.6 790.6,248.9 790.9,251.2 791.2,251.4 791.6,252.7 791.9,255.4 792.3,253.5 792.6,254.7 792.9,252.4 793.3,257.3 793.6,254.3 793.9,256.8 794.3,253.5 794.6,256.5 794.9,254.1 795.3,256.2 795.6,256.4 795.9,254.4 796.3,255.9 796.6,254.2 796.9,253.5 797.3,253.0 797.6,252.1 797.9,254.5 798.3,251.4 798.6,249.7 798.9,254.0 799.3,251.7 799.6,253.8 799.9,251.9 800.3,249.9 800.6,250.1 800.9,250.1 801.3,249.3 801.6,250.4 802.0,251.1 802.3,251.1 802.6,250.6 803.0,251.9 803.3,250.6 803.6,250.4 804.0,248.9 804.3,250.6 804.7,248.8 805.0,250.8 805.3,248.8 805.7,248.7 806.0,250.3 806.4,251.1 806.7,251.3 807.0,252.3 807.4,254.5 807.7,252.6 808.1,255.5 808.4,255.7 808.8,255.8 809.1,257.0 809.5,255.1 809.8,254.5 810.1,258.5 810.5,255.3 810.9,256.2 811.2,256.8 811.5,256.0 811.9,255.1 812.2,254.5 812.6,257.7 812.9,259.2 813.3,256.4 813.6,259.9 814.0,261.4 814.3,260.5 814.7,262.0 815.0,261.4 815.3,259.4 815.7,258.7 816.0,258.5 816.4,257.9 816.7,256.9 817.0,256.6 817.4,258.3 817.7,258.9 818.1,256.8 818.4,255.3 818.8,254.5 819.1,256.8 819.4,255.1 819.8,256.4 820.1,251.3 820.5,252.6 820.8,252.7 821.1,251.2 821.5,250.8 821.8,252.5 822.2,251.3 822.5,252.6 822.9,252.0 823.2,253.6 823.5,254.5 823.9,251.7 824.2,251.8 824.6,252.1 825.0,251.7 825.3,250.5 825.6,250.0 826.0,248.9 826.3,250.0 826.7,252.0 827.0,250.5 827.4,251.8 827.7,253.3 828.0,254.7 828.4,254.5 828.7,255.0 829.1,255.7 829.4,258.2 829.7,257.8 830.1,256.8 830.4,256.6 830.7,255.9 831.0,253.4 831.4,254.2 831.7,249.3 832.0,250.1 832.3,250.5 832.7,248.4 833.0,247.6 833.3,247.3 833.6,247.3 834.0,244.9 834.3,245.3 834.6,246.3 835.0,246.2 835.3,246.2 835.6,246.7 835.9,246.8 836.2,248.2 836.6,249.8 836.9,247.5 837.3,248.5 837.6,246.8 837.9,248.8 838.3,250.7 838.6,248.5 838.9,248.6 839.3,250.3 839.6,247.4 839.9,246.2 840.3,245.1 840.6,243.2 840.9,242.6 841.3,245.1 841.6,246.9 842.0,245.2 842.3,245.0 842.7,246.4 843.0,246.1 843.4,246.3 843.7,246.1 844.1,245.4 844.4,244.5" fill="none" stroke="#FF0000" stroke-width="3.3" stroke-linejoin="round" stroke-linecap="round"/>
<polyline points="70.6,334.2 70.9,334.3 71.3,334.1 71.6,334.4 71.9,334.0 72.3,334.4 72.6,334.0 72.9,334.6 73.3,333.9 73.6,334.6 73.9,333.4 74.3,334.4 74.6,333.7 75.0,334.0 75.3,333.5 75.6,334.0 76.0,333.7 76.3,333.8 76.6,333.6 77.0,333.9 77.3,333.2 77.6,334.3 78.0,333.1 78.3,334.2 78.6,333.4 79.0,334.1 79.3,333.0 79.6,333.9 80.0,333.1 80.3,333.7 80.6,333.1 81.0,333.6 81.3,332.9 81.7,334.0 82.0,332.9 82.3,334.0 82.7,333.1 83.0,333.5 83.3,332.5 83.7,333.5 84.0,332.7 84.3,333.2 84.7,332.7 85.0,333.2 85.3,332.9 85.7,333.0 86.0,332.6 86.3,333.1 86.6,332.8 87.0,332.9 87.3,332.7 87.6,332.9 88.0,332.5 88.3,332.8 88.6,332.5 88.9,332.9 89.3,332.4 89.6,332.6 89.9,332.3 90.3,332.6 90.6,332.0 90.9,332.8 91.2,332.2 91.6,332.8 91.9,332.1 92.2,332.7 92.6,331.9 92.9,332.3 93.2,331.6 93.6,332.8 93.9,330.9 94.2,332.8 94.5,331.9 94.9,332.1 95.2,331.7 95.5,332.1 95.9,331.5 96.2,332.3 96.5,331.2 96.8,332.2 97.2,331.4 97.5,331.8 97.8,331.5 98.2,332.3 98.5,331.1 98.9,331.9 99.2,330.5 99.5,332.7 99.9,330.9 100.2,331.7 100.6,330.9 100.9,331.4 101.2,331.1 101.6,331.4 101.9,330.9 102.3,331.2 102.6,330.4 103.0,331.2 103.3,330.6 103.6,330.9 104.0,330.4 104.3,330.9 104.7,330.1 105.0,330.7 105.3,330.1 105.7,330.8 106.0,329.8 106.3,330.1 106.7,329.5 107.0,329.7 107.3,329.3 107.7,329.5 108.0,328.9 108.3,329.5 108.7,328.0 109.0,329.7 109.3,327.7 109.7,329.1 110.0,327.9 110.3,328.4 110.7,327.8 111.0,327.9 111.3,327.5 111.7,327.5 112.0,326.8 112.3,327.9 112.7,326.7 113.0,327.7 113.3,326.6 113.7,326.7 114.0,326.3 114.3,326.4 114.7,325.8 115.0,326.1 115.3,325.6 115.7,326.2 116.0,324.7 116.4,325.9 116.7,324.3 117.0,326.0 117.4,324.4 117.7,325.1 118.1,324.1 118.4,324.9 118.8,324.1 119.1,324.3 119.4,323.8 119.8,323.9 120.1,323.2 120.5,323.8 120.8,323.1 121.1,323.5 121.5,322.9 121.8,322.8 122.2,322.6 122.5,322.5 122.8,321.9 123.2,321.8 123.5,321.0 123.8,321.1 124.2,320.3 124.5,320.1 124.8,319.4 125.2,319.2 125.5,318.7 125.8,319.0 126.1,318.9 126.5,319.3 126.8,319.0 127.1,319.5 127.4,319.3 127.8,319.9 128.1,318.9 128.4,320.3 128.7,319.4 129.0,320.5 129.4,320.2 129.7,320.5 130.0,320.5 130.3,320.4 130.7,320.0 131.0,320.3 131.3,319.5 131.7,320.1 132.0,319.5 132.3,319.6 132.7,319.2 133.0,319.3 133.3,318.2 133.7,319.3 134.0,318.5 134.3,318.7 134.7,318.2 135.0,319.0 135.3,317.5 135.7,318.4 136.0,317.6 136.3,317.9 136.7,317.0 137.0,317.5 137.3,316.9 137.7,317.3 138.0,316.7 138.3,317.3 138.7,316.3 139.0,316.7 139.3,316.0 139.7,316.4 140.0,316.0 140.3,316.2 140.7,315.6 141.0,315.8 141.4,315.2 141.7,315.7 142.0,315.1 142.4,315.6 142.7,314.6 143.1,315.7 143.4,314.2 143.8,315.4 144.1,313.7 144.4,315.0 144.8,313.5 145.1,315.3 145.5,314.2 145.8,314.4 146.1,313.9 146.5,314.2 146.8,313.4 147.2,314.2 147.5,313.6 147.8,314.0 148.2,313.3 148.5,314.2 148.8,312.6 149.2,314.1 149.5,312.8 149.8,314.3 150.2,311.9 150.5,314.2 150.8,312.2 151.2,313.2 151.5,312.0 151.8,313.3 152.2,312.5 152.5,312.6 152.8,311.7 153.2,312.0 153.6,310.8 153.9,311.3 154.2,309.8 154.6,310.3 154.9,308.8 155.3,308.8 155.7,307.9 156.0,307.5 156.3,307.2 156.7,308.2 157.0,307.1 157.3,308.5 157.6,307.0 157.9,308.1 158.3,307.6 158.6,308.6 158.9,307.6 159.2,308.6 159.6,307.8 159.9,308.8 160.2,307.9 160.6,308.9 160.9,307.6 161.2,309.3 161.5,308.2 161.8,308.9 162.2,308.5 162.5,308.8 162.8,308.6 163.2,308.9 163.5,308.5 163.9,308.8 164.2,307.9 164.5,309.5 164.9,307.5 165.2,309.8 165.6,308.1 165.9,309.0 166.2,308.2 166.6,309.2 166.9,307.3 167.3,309.4 167.6,307.9 168.0,309.2 168.3,308.2 168.6,309.3 169.0,308.4 169.3,309.0 169.7,308.6 170.0,308.8 170.3,308.5 170.7,308.6 171.0,308.2 171.4,308.1 171.7,307.8 172.0,307.8 172.4,307.2 172.7,307.5 173.1,306.8 173.4,307.2 173.8,306.6 174.1,307.0 174.4,306.1 174.8,306.7 175.1,305.9 175.5,306.3 175.8,305.7 176.1,305.8 176.5,305.1 176.8,305.7 177.2,304.8 177.5,305.1 177.8,304.7 178.2,305.4 178.5,304.2 178.9,305.5 179.2,304.6 179.5,305.0 179.9,304.5 180.2,304.9 180.6,304.2 180.9,304.8 181.2,303.6 181.6,304.7 181.9,304.1 182.3,304.3 182.6,304.0 183.0,304.1 183.3,303.7 183.6,304.1 184.0,303.8 184.3,304.1 184.7,303.4 185.0,303.8 185.3,303.8 185.7,304.9 186.0,304.4 186.3,305.3 186.7,305.3 187.0,305.9 187.3,306.0 187.7,306.5 188.0,306.7 188.3,307.1 188.7,307.3 189.0,307.9 189.3,307.9 189.7,308.6 190.0,308.7 190.3,308.7 190.7,308.4 191.0,308.4 191.3,307.9 191.7,308.2 192.0,307.6 192.3,307.9 192.7,307.5 193.0,307.5 193.3,307.2 193.7,307.1 194.0,306.5 194.3,307.0 194.7,306.4 195.0,306.9 195.3,306.2 195.7,306.2 196.0,306.0 196.3,306.0 196.7,305.6 197.0,306.4 197.3,305.4 197.7,306.6 198.0,305.3 198.3,306.7 198.7,304.9 199.0,306.4 199.3,305.1 199.7,306.2 200.0,305.3 200.3,305.7 200.7,304.3 201.0,305.1 201.3,303.5 201.7,304.3 202.0,303.4 202.3,303.5 202.7,302.8 203.0,303.2 203.3,302.1 203.7,303.1 204.0,301.3 204.3,301.9 204.7,300.9 205.0,301.1 205.3,300.5 205.7,301.2 206.0,299.7 206.4,300.8 206.7,298.9 207.0,299.9 207.4,298.6 207.7,299.6 208.1,298.4 208.4,299.0 208.8,298.3 209.1,298.4 209.4,297.9 209.8,298.2 210.1,297.0 210.5,298.3 210.8,296.6 211.1,297.7 211.5,296.0 211.8,296.7 212.2,295.8 212.5,296.1 212.8,295.5 213.2,295.3 213.5,294.8 213.8,294.7 214.1,293.6 214.4,294.1 214.8,292.6 215.1,293.8 215.4,292.1 215.8,293.1 216.1,291.7 216.4,292.6 216.7,291.0 217.1,292.0 217.4,290.3 217.7,290.6 218.0,289.9 218.3,289.8 218.7,289.1 219.0,289.0 219.3,288.3 219.7,289.6 220.0,287.9 220.3,291.1 220.7,289.4 221.0,290.0 221.3,289.8 221.7,290.4 222.0,289.8 222.3,290.9 222.7,290.1 223.0,290.9 223.3,289.6 223.7,291.6 224.0,290.9 224.3,291.1 224.7,289.7 225.0,289.5 225.3,288.3 225.7,288.5 226.0,287.0 226.3,287.6 226.7,286.2 227.0,286.6 227.3,284.7 227.7,285.4 228.0,283.5 228.3,284.6 228.7,282.7 229.0,283.0 229.3,281.2 229.7,282.2 230.0,280.9 230.3,280.7 230.7,279.1 231.0,279.9 231.3,277.8 231.7,278.9 232.0,277.0 232.3,277.3 232.7,274.5 233.0,277.3 233.3,274.6 233.7,274.8 234.0,273.5 234.3,273.5 234.7,272.5 235.0,272.1 235.3,272.2 235.7,272.7 236.0,272.7 236.3,273.2 236.7,272.9 237.0,273.9 237.3,273.5 237.7,274.7 238.0,274.0 238.3,275.1 238.7,273.9 239.0,276.0 239.3,275.1 239.7,276.1 240.0,275.9 240.3,277.2 240.7,276.8 241.0,278.2 241.4,278.0 241.7,279.2 242.1,278.3 242.4,280.5 242.8,279.9 243.1,281.4 243.4,281.3 243.8,282.5 244.1,282.0 244.5,283.9 244.8,283.6 245.2,284.9 245.5,285.0 245.8,284.1 246.2,282.6 246.5,282.1 246.9,279.9 247.2,280.3 247.6,278.3 247.9,277.6 248.2,275.8 248.6,275.4 248.9,273.8 249.3,273.2 249.6,271.6 250.0,271.1 250.3,269.0 250.7,269.5 251.0,267.4 251.3,268.2 251.7,267.3 252.0,268.9 252.3,268.1 252.7,269.1 253.0,268.5 253.3,269.6 253.7,268.9 254.0,269.9 254.3,268.8 254.7,270.8 255.0,269.3 255.3,271.2 255.7,270.5 256.0,271.1 256.3,270.1 256.7,269.7 257.0,268.1 257.3,269.1 257.7,266.1 258.0,267.8 258.3,265.5 258.7,266.7 259.0,262.9 259.3,264.4 259.7,263.0 260.0,262.6 260.3,262.2 260.7,262.2 261.0,261.3 261.3,261.9 261.7,261.0 262.0,261.3 262.3,259.1 262.7,262.6 263.0,258.9 263.3,261.2 263.7,257.5 264.0,261.2 264.3,257.7 264.7,260.5 265.0,258.4 265.3,258.7 265.7,255.3 266.0,257.9 266.3,252.8 266.7,257.3 267.0,250.6 267.3,256.2 267.7,250.3 268.0,253.2 268.3,248.0 268.7,250.8 269.0,248.0 269.3,248.9 269.7,245.7 270.0,246.2 270.3,246.4 270.7,247.7 271.0,247.6 271.3,249.6 271.7,249.1 272.0,250.2 272.3,250.3 272.7,251.8 273.0,251.7 273.3,253.2 273.7,252.7 274.0,254.8 274.3,254.6 274.7,255.4 275.0,256.0 275.3,255.4 275.7,253.1 276.0,254.7 276.3,252.1 276.7,253.5 277.0,250.8 277.3,251.3 277.7,249.5 278.0,250.2 278.3,247.8 278.7,249.7 279.0,245.5 279.3,247.2 279.7,244.4 280.0,245.2 280.3,243.7 280.7,244.1 281.0,239.9 281.4,244.2 281.7,239.2 282.0,243.3 282.4,238.9 282.7,240.4 283.1,238.4 283.4,238.4 283.8,237.3 284.1,239.9 284.4,239.2 284.8,242.9 285.1,242.9 285.4,244.9 285.8,245.7 286.1,248.1 286.4,247.5 286.8,252.0 287.1,251.0 287.4,254.0 287.8,254.1 288.1,256.0 288.4,257.0 288.8,258.8 289.1,256.9 289.4,256.6 289.8,252.7 290.1,253.5 290.5,250.5 290.8,251.3 291.1,247.4 291.5,248.2 291.8,244.8 292.2,244.3 292.5,242.4 292.8,241.8 293.1,240.0 293.5,241.2 293.8,237.5 294.1,238.8 294.4,236.0 294.8,237.4 295.1,234.7 295.4,235.6 295.7,232.5 296.0,233.3 296.4,230.9 296.7,231.2 297.0,229.9 297.3,232.0 297.7,231.2 298.0,234.2 298.3,234.3 298.7,235.8 299.0,236.6 299.3,237.9 299.7,238.7 300.0,240.2 300.3,238.3 300.7,238.6 301.0,236.6 301.4,237.3 301.7,234.3 302.0,235.4 302.4,233.1 302.7,233.5 303.1,231.4 303.4,231.2 303.8,229.8 304.1,233.1 304.4,231.4 304.7,236.1 305.0,234.7 305.4,237.4 305.7,238.3 306.0,240.0 306.3,238.3 306.7,239.1 307.0,236.8 307.3,238.8 307.7,235.7 308.0,236.3 308.3,234.0 308.7,234.7 309.0,232.8 309.3,234.0 309.7,230.9 310.0,231.9 310.3,228.7 310.7,230.8 311.0,228.5 311.3,228.5 311.7,226.5 312.0,226.6 312.3,223.4 312.7,225.7 313.0,220.1 313.3,224.3 313.7,219.9 314.0,221.5 314.3,217.4 314.7,218.3 315.0,215.9 315.3,216.7 315.7,212.6 316.0,214.2 316.3,211.3 316.7,213.3 317.0,206.2 317.3,209.8 317.7,202.7 318.0,206.0 318.3,198.1 318.7,204.0 319.0,195.8 319.3,202.0 319.7,194.8 320.0,195.8 320.3,192.7 320.7,191.9 321.0,189.8 321.3,191.3 321.7,189.9 322.0,192.8 322.3,189.7 322.7,192.5 323.0,189.0 323.3,193.3 323.7,188.3 324.0,197.4 324.3,189.1 324.7,196.2 325.0,188.3 325.3,198.7 325.7,191.9 326.0,195.3 326.3,193.0 326.7,198.5 327.0,191.6 327.3,197.2 327.7,190.7 328.0,196.6 328.3,190.4 328.7,193.2 329.0,189.4 329.3,192.6 329.7,189.1 330.0,190.7 330.3,186.4 330.7,190.8 331.0,188.2 331.3,191.2 331.7,188.1 332.0,188.4 332.3,187.5 332.7,187.9 333.0,185.7 333.3,189.9 333.7,184.8 334.0,189.5 334.3,184.2 334.7,186.6 335.0,183.9 335.3,186.2 335.7,182.4 336.0,185.6 336.3,181.8 336.7,186.9 337.0,178.6 337.3,185.2 337.7,177.3 338.0,184.7 338.3,172.8 338.7,180.9 339.0,173.2 339.3,179.6 339.7,170.9 340.0,177.3 340.3,170.2 340.7,175.5 341.0,170.9 341.4,171.7 341.7,167.4 342.1,170.7 342.4,164.4 342.8,169.2 343.1,163.5 343.4,166.8 343.8,164.4 344.1,164.8 344.5,163.4 344.8,165.0 345.2,163.5 345.5,169.1 345.8,166.6 346.2,172.2 346.5,170.7 346.8,173.9 347.2,172.5 347.5,175.2 347.9,174.4 348.2,180.9 348.6,176.9 348.9,183.6 349.2,178.0 349.6,183.1 349.9,181.0 350.3,185.4 350.6,184.0 351.0,187.1 351.4,185.5 351.8,187.2 352.1,185.1 352.5,185.3 352.8,191.7 353.2,201.6 353.5,207.6 353.8,217.0 354.2,224.3 354.5,232.7 354.9,229.5 355.2,228.5 355.6,223.8 355.9,223.2 356.2,219.6 356.6,218.4 356.9,214.1 357.3,212.8 357.6,208.9 358.0,207.8 358.4,210.9 358.7,218.2 359.1,218.6 359.4,226.5 359.8,226.9 360.1,235.3 360.4,236.3 360.8,240.8 361.1,244.5 361.5,248.8 361.9,245.2 362.2,245.2 362.6,240.3 362.9,243.1 363.2,237.7 363.6,236.7 363.9,233.1 364.3,233.0 364.6,229.4 365.0,227.6 365.3,225.2 365.7,224.6 366.0,220.8 366.4,222.0 366.7,217.1 367.0,217.4 367.4,213.1 367.7,214.2 368.1,210.5 368.4,210.2 368.8,207.4 369.1,206.2 369.4,203.8 369.8,203.3 370.1,200.6 370.5,199.9 370.8,197.6 371.1,197.0 371.5,194.4 371.8,193.9 372.2,191.3 372.5,190.1 372.9,190.6 373.2,196.4 373.6,190.9 373.9,197.3 374.2,195.1 374.6,201.4 374.9,198.0 375.3,204.6 375.6,203.7 376.0,206.2 376.3,203.7 376.7,203.6 377.0,197.6 377.3,202.7 377.7,192.0 378.0,200.5 378.3,189.7 378.7,193.8 379.0,187.2 379.3,190.2 379.7,185.9 380.0,186.0 380.3,182.9 380.7,190.1 381.0,184.2 381.4,191.3 381.7,184.8 382.0,192.7 382.4,187.3 382.7,191.7 383.1,186.2 383.4,191.6 383.8,189.6 384.1,188.6 384.4,180.7 384.7,183.2 385.0,174.6 385.3,175.8 385.7,171.3 386.0,174.9 386.4,168.1 386.7,178.5 387.0,165.4 387.4,175.7 387.7,171.0 388.0,172.0 388.4,170.4 388.7,171.8 389.1,169.1 389.4,170.5 389.7,168.8 390.1,173.2 390.4,168.3 390.8,169.6 391.1,167.0 391.5,170.1 391.8,166.5 392.2,170.4 392.5,167.0 392.8,168.6 393.2,164.8 393.5,170.3 393.9,158.7 394.2,172.8 394.5,163.1 394.9,164.9 395.2,162.6 395.6,162.9 395.9,160.4 396.2,161.8 396.6,158.0 396.9,161.8 397.3,157.3 397.6,157.4 398.0,154.1 398.3,154.6 398.6,151.7 399.0,152.5 399.3,149.3 399.7,149.5 400.0,147.0 400.3,149.4 400.7,141.6 401.0,151.1 401.3,146.2 401.7,147.0 402.0,146.1 402.3,146.3 402.7,143.0 403.0,146.1 403.3,142.9 403.6,147.1 404.0,142.9 404.3,146.0 404.6,142.4 404.9,145.3 405.2,143.2 405.6,145.3 405.9,142.9 406.2,144.2 406.5,142.4 406.9,143.5 407.2,142.2 407.5,142.7 407.8,140.3 408.1,144.4 408.4,141.5 408.8,144.7 409.1,142.2 409.4,145.8 409.7,144.1 410.0,145.2 410.3,148.1 410.6,154.2 410.9,155.2 411.3,161.0 411.6,163.6 411.9,168.3 412.2,165.6 412.5,166.3 412.8,159.6 413.1,162.3 413.5,158.1 413.8,160.0 414.1,156.1 414.4,155.1 414.7,152.6 415.0,151.7 415.3,149.0 415.6,147.8 416.0,145.5 416.3,144.0 416.6,141.3 416.9,140.2 417.2,137.7 417.5,140.1 417.8,136.3 418.1,136.7 418.5,134.4 418.8,135.1 419.1,133.1 419.4,132.6 419.7,131.3 420.0,132.2 420.3,128.8 420.6,131.6 421.0,129.0 421.3,130.8 421.6,128.9 421.9,128.8 422.3,133.0 422.6,140.7 423.0,144.2 423.3,148.7 423.7,144.9 424.0,155.8 424.3,151.1 424.7,155.5 425.0,156.0 425.4,161.3 425.8,161.6 426.1,167.1 426.5,169.8 426.9,169.6 427.2,167.4 427.6,167.1 427.9,165.0 428.2,164.9 428.6,162.5 428.9,163.3 429.3,160.7 429.6,161.0 430.0,158.9 430.3,161.1 430.7,160.5 431.0,163.8 431.3,160.4 431.7,169.0 432.0,163.2 432.3,169.3 432.7,168.4 433.0,171.1 433.3,170.8 433.6,174.1 434.0,171.5 434.3,178.3 434.6,174.5 434.9,179.8 435.3,178.6 435.6,180.9 435.9,180.9 436.2,182.6 436.6,180.7 436.9,185.2 437.3,177.3 437.6,187.7 438.0,178.5 438.3,184.4 438.7,177.8 439.0,182.2 439.4,179.5 439.7,184.3 440.0,180.8 440.3,190.4 440.6,182.6 440.9,194.4 441.2,189.7 441.6,190.0 441.9,184.5 442.3,187.1 442.6,177.8 443.0,182.8 443.3,178.4 443.7,179.1 444.0,175.1 444.4,174.1 444.7,170.2 445.0,172.4 445.3,165.6 445.6,170.9 446.0,161.6 446.3,166.6 446.6,158.4 446.9,160.8 447.2,159.3 447.6,163.6 447.9,159.8 448.3,164.4 448.6,157.5 449.0,168.5 449.3,158.5 449.7,165.0 450.0,163.5 450.3,166.8 450.6,161.3 450.9,166.2 451.3,160.0 451.6,165.7 451.9,163.4 452.2,164.7 452.6,160.7 452.9,161.2 453.3,159.2 453.6,159.1 454.0,156.6 454.3,156.9 454.7,155.0 455.0,154.7 455.3,153.3 455.7,156.2 456.0,150.2 456.4,153.6 456.7,151.0 457.0,153.7 457.4,150.3 457.7,152.6 458.0,149.0 458.4,150.9 458.7,148.9 459.1,150.2 459.4,148.0 459.7,153.3 460.0,150.3 460.3,154.4 460.6,149.2 460.9,156.4 461.2,152.7 461.6,156.6 461.9,154.0 462.2,157.2 462.5,156.9 462.8,158.0 463.1,150.4 463.4,155.8 463.8,149.2 464.1,155.1 464.4,149.7 464.7,152.9 465.0,149.0 465.3,151.8 465.6,151.9 465.9,155.6 466.2,154.7 466.6,161.1 466.9,158.4 467.2,163.3 467.5,163.1 467.8,165.6 468.1,162.0 468.4,164.4 468.8,160.8 469.1,165.4 469.4,162.2 469.7,163.9 470.0,162.8 470.3,163.0 470.6,158.5 470.9,160.2 471.3,155.5 471.6,156.5 471.9,154.4 472.3,150.1 472.6,142.8 473.0,137.9 473.4,135.9 473.7,135.0 474.1,132.6 474.4,132.0 474.8,130.0 475.1,132.4 475.5,130.2 475.8,135.3 476.2,134.0 476.5,135.8 476.9,136.2 477.2,137.8 477.5,137.5 477.8,139.1 478.1,138.3 478.4,140.1 478.8,140.0 479.1,146.2 479.4,141.7 479.7,152.1 480.0,152.4 480.3,152.8 480.7,151.7 481.0,152.5 481.3,146.2 481.7,158.5 482.0,148.3 482.3,156.8 482.7,150.3 483.0,151.7 483.3,150.1 483.6,152.7 484.0,150.6 484.3,151.9 484.6,150.4 485.0,151.4 485.3,150.4 485.6,150.6 485.9,151.5 486.2,153.1 486.6,148.1 486.9,159.9 487.2,153.1 487.5,157.9 487.8,152.2 488.1,161.9 488.4,153.0 488.8,161.3 489.1,150.6 489.4,154.3 489.7,149.6 490.0,151.6 490.3,150.3 490.7,154.4 491.0,149.6 491.3,156.5 491.7,149.0 492.0,158.2 492.3,150.1 492.7,155.7 493.0,153.2 493.3,155.7 493.6,150.7 494.0,161.3 494.3,152.8 494.6,156.8 495.0,153.7 495.3,156.4 495.6,155.9 495.9,155.0 496.2,151.8 496.6,151.4 496.9,146.7 497.2,149.5 497.5,145.5 497.9,149.1 498.2,140.9 498.6,142.9 499.0,140.2 499.3,142.6 499.6,138.4 500.0,154.0 500.3,143.6 500.6,148.7 500.9,145.9 501.2,150.3 501.6,142.3 501.9,153.4 502.2,146.0 502.5,147.0 502.8,143.4 503.1,146.6 503.4,141.8 503.8,148.4 504.1,141.9 504.4,143.6 504.7,137.9 505.0,148.0 505.3,138.3 505.6,148.2 506.0,141.6 506.3,144.1 506.6,142.4 506.9,143.2 507.2,141.4 507.5,144.0 507.8,140.0 508.1,144.9 508.5,141.2 508.8,144.9 509.1,140.1 509.4,142.2 509.7,139.1 510.0,145.3 510.3,142.1 510.6,150.5 510.9,144.9 511.2,148.7 511.6,144.8 511.9,153.9 512.3,150.6 512.6,159.2 513.0,154.9 513.3,157.6 513.7,151.9 514.0,161.7 514.3,151.6 514.7,160.3 515.0,156.2 515.3,158.2 515.6,155.5 515.9,161.7 516.2,158.2 516.6,161.7 516.9,160.4 517.2,163.4 517.5,162.9 517.8,164.9 518.1,164.7 518.5,167.1 518.8,164.5 519.1,169.7 519.4,168.7 519.7,171.6 520.0,164.9 520.3,170.9 520.6,162.4 520.9,166.2 521.2,164.2 521.6,164.9 521.9,163.9 522.2,167.1 522.5,164.2 522.8,167.3 523.1,164.1 523.4,169.3 523.8,166.3 524.1,168.9 524.4,166.4 524.7,172.4 525.0,169.6 525.3,176.2 525.6,175.3 525.9,178.2 526.2,176.5 526.5,178.9 526.9,177.4 527.2,180.6 527.5,179.8 527.8,180.3 528.1,178.2 528.4,178.7 528.8,175.3 529.1,178.0 529.4,175.2 529.7,178.3 530.0,174.7 530.3,177.1 530.6,174.2 530.9,181.2 531.2,177.7 531.6,182.8 531.9,180.1 532.2,184.3 532.5,184.2 532.8,189.3 533.1,186.2 533.4,192.0 533.8,191.6 534.1,191.2 534.4,185.6 534.7,187.3 535.0,182.4 535.3,184.7 535.6,179.7 536.0,181.5 536.3,175.9 536.6,181.4 537.0,173.8 537.4,179.1 537.7,172.0 538.0,174.3 538.4,170.8 538.8,171.8 539.1,168.8 539.4,172.2 539.7,167.9 540.0,172.9 540.3,168.8 540.6,170.3 540.9,167.8 541.2,169.1 541.6,169.3 542.0,175.5 542.3,170.9 542.6,177.9 543.0,177.3 543.3,182.0 543.7,178.3 544.0,183.0 544.3,179.0 544.7,184.8 545.0,183.5 545.3,188.6 545.6,186.7 546.0,196.1 546.3,188.7 546.6,198.1 546.9,197.2 547.2,198.8 547.5,192.7 547.8,198.5 548.1,185.6 548.4,195.6 548.8,190.2 549.1,199.0 549.4,191.8 549.7,202.1 550.0,200.6 550.3,209.2 550.6,209.7 550.9,215.0 551.2,210.2 551.5,215.5 551.9,213.2 552.2,216.0 552.5,215.9 552.8,217.8 553.2,215.5 553.5,220.6 553.9,216.1 554.2,219.8 554.6,209.4 555.0,211.5 555.3,207.0 555.6,208.6 555.9,199.3 556.2,210.1 556.6,200.4 556.9,203.0 557.2,196.0 557.5,196.5 557.8,192.6 558.1,196.4 558.4,192.4 558.8,195.8 559.1,190.6 559.4,192.2 559.7,188.8 560.0,190.0 560.3,188.0 560.6,191.4 560.9,188.8 561.2,189.7 561.6,188.3 561.9,189.4 562.2,187.4 562.5,189.7 562.9,184.0 563.2,189.9 563.6,178.2 564.0,178.0 564.3,176.2 564.6,185.7 565.0,182.8 565.3,186.4 565.6,187.1 565.9,189.6 566.3,186.3 566.6,191.3 567.0,187.1 567.3,189.7 567.7,186.8 568.0,189.0 568.3,188.4 568.7,191.8 569.0,191.7 569.3,194.9 569.7,194.4 570.0,196.6 570.3,195.4 570.7,197.6 571.0,194.5 571.4,198.4 571.7,194.3 572.0,199.5 572.4,194.8 572.7,197.7 573.1,195.1 573.4,197.7 573.8,196.2 574.1,198.8 574.4,196.9 574.7,199.7 575.0,198.8 575.3,201.6 575.6,200.3 575.9,201.6 576.2,202.0 576.6,202.5 576.9,202.3 577.3,203.3 577.6,202.8 578.0,203.8 578.3,202.1 578.7,204.7 579.0,204.2 579.4,207.1 579.7,205.4 580.0,206.5 580.4,206.5 580.8,207.5 581.1,207.1 581.5,209.4 581.8,208.0 582.1,209.9 582.5,209.8 582.8,212.5 583.2,212.3 583.5,214.7 583.9,215.1 584.2,217.9 584.6,217.7 584.9,220.6 585.3,220.6 585.6,222.7 585.9,223.8 586.3,227.2 586.6,225.9 587.0,230.3 587.3,228.2 587.7,234.0 588.0,233.7 588.3,237.3 588.7,237.4 589.0,241.6 589.3,240.4 589.7,245.2 590.0,246.2 590.3,250.2 590.6,249.5 590.9,254.0 591.2,255.7 591.6,253.8 592.0,247.0 592.4,247.9 592.8,242.4 593.1,243.0 593.4,239.0 593.7,240.2 594.0,237.2 594.4,238.1 594.7,235.8 595.0,235.1 595.3,234.9 595.7,235.2 596.0,232.6 596.4,237.3 596.7,233.9 597.0,236.1 597.4,233.5 597.7,236.0 598.1,233.7 598.4,235.4 598.8,234.8 599.1,235.1 599.5,231.9 599.8,233.2 600.1,229.4 600.5,230.2 600.9,226.2 601.2,228.0 601.5,222.9 601.9,224.3 602.2,221.6 602.6,226.4 602.9,221.6 603.2,222.3 603.6,220.8 603.9,221.4 604.3,219.8 604.6,221.2 604.9,218.3 605.3,220.2 605.6,218.5 605.9,220.1 606.3,217.2 606.6,219.7 607.0,214.7 607.3,219.2 607.7,214.8 608.0,218.4 608.4,215.4 608.7,217.8 609.1,215.9 609.4,216.3 609.7,213.5 610.1,218.2 610.4,210.7 610.8,216.7 611.1,208.0 611.5,214.7 611.8,208.2 612.2,211.0 612.5,208.3 612.8,209.5 613.2,208.9 613.5,211.9 613.9,210.3 614.2,211.9 614.6,211.5 614.9,212.9 615.3,212.2 615.6,213.9 616.0,213.6 616.3,215.5 616.6,214.0 617.0,218.3 617.4,214.2 617.7,221.1 618.0,217.8 618.4,219.8 618.8,219.8 619.1,221.4 619.4,219.5 619.7,225.6 620.0,219.4 620.3,224.8 620.6,220.5 620.9,225.7 621.2,224.7 621.6,224.3 622.0,221.2 622.3,222.1 622.6,218.2 623.0,219.0 623.4,215.6 623.7,216.3 624.0,213.1 624.4,212.8 624.7,211.4 625.1,215.6 625.4,208.6 625.7,215.1 626.0,209.8 626.4,213.8 626.7,209.9 627.0,214.2 627.3,210.4 627.7,212.2 628.0,211.0 628.3,212.9 628.6,210.8 629.0,214.1 629.3,210.7 629.6,215.4 630.0,210.4 630.3,215.5 630.6,211.7 630.9,214.5 631.2,213.6 631.6,217.1 632.0,213.0 632.3,217.2 632.6,216.1 633.0,220.2 633.4,217.8 633.7,222.4 634.0,219.6 634.4,221.3 634.7,221.9 635.1,224.0 635.4,224.8 635.7,226.6 636.0,227.2 636.4,229.1 636.7,228.5 637.0,231.8 637.3,231.3 637.7,234.3 638.0,234.9 638.3,235.3 638.6,233.7 639.0,235.1 639.3,232.7 639.6,233.5 640.0,231.9 640.3,233.2 640.6,230.4 640.9,232.2 641.2,231.0 641.6,233.4 641.9,231.5 642.2,236.7 642.5,233.5 642.8,238.8 643.1,235.6 643.4,239.3 643.8,239.8 644.1,242.2 644.5,240.7 644.8,244.3 645.1,241.9 645.5,245.4 645.9,244.3 646.2,247.1 646.5,247.4 646.9,249.0 647.3,250.2 647.6,253.5 648.0,254.6 648.3,257.3 648.6,255.6 649.0,258.6 649.3,256.8 649.6,259.2 650.0,259.4 650.3,260.8 650.6,261.2 650.9,263.1 651.2,264.1 651.5,266.5 651.9,267.1 652.2,269.9 652.5,271.1 652.8,273.4 653.1,273.3 653.4,276.8 653.8,276.8 654.1,279.3 654.4,280.4 654.7,282.4 655.0,283.6 655.3,283.5 655.7,281.9 656.0,282.6 656.3,280.5 656.7,280.6 657.0,278.8 657.3,279.2 657.7,277.9 658.0,277.6 658.3,276.1 658.6,276.1 659.0,273.2 659.3,274.4 659.6,270.6 660.0,272.8 660.3,270.4 660.6,270.7 660.9,268.6 661.2,268.1 661.6,267.0 661.9,271.9 662.2,270.8 662.5,275.6 662.8,273.0 663.1,277.4 663.4,275.8 663.8,278.2 664.1,277.0 664.4,279.2 664.7,276.6 665.0,278.8 665.3,277.6 665.6,278.9 665.9,277.5 666.2,278.8 666.6,279.5 666.9,281.9 667.2,281.8 667.5,284.1 667.8,284.2 668.1,288.0 668.4,285.8 668.8,288.9 669.1,289.5 669.4,291.3 669.7,291.5 670.0,293.4 670.3,293.5 670.6,295.1 671.0,292.9 671.3,292.4 671.6,289.5 672.0,288.0 672.4,285.9 672.7,284.3 673.0,282.2 673.4,280.9 673.8,278.7 674.1,278.8 674.4,277.0 674.8,279.9 675.1,277.0 675.5,278.2 675.8,276.8 676.1,277.1 676.5,276.1 676.8,276.4 677.2,275.7 677.5,275.7 677.8,275.2 678.2,275.6 678.5,273.5 678.9,276.6 679.2,272.2 679.6,275.8 679.9,273.6 680.3,274.4 680.6,273.7 680.9,273.9 681.3,273.0 681.6,273.3 682.0,272.3 682.3,273.3 682.7,272.1 683.0,271.9 683.3,272.3 683.6,274.0 684.0,273.6 684.3,275.9 684.6,275.9 685.0,277.6 685.3,277.8 685.6,278.8 685.9,279.4 686.3,280.3 686.6,280.3 687.0,282.2 687.3,281.3 687.7,283.6 688.0,283.7 688.3,283.4 688.6,282.2 689.0,282.6 689.3,280.8 689.6,281.1 690.0,279.5 690.3,279.5 690.6,277.9 690.9,278.4 691.2,277.4 691.6,279.0 691.9,279.1 692.2,280.5 692.5,280.8 692.8,282.4 693.1,282.9 693.4,284.2 693.8,285.0 694.1,285.8 694.4,285.7 694.8,287.7 695.1,287.5 695.5,289.2 695.8,288.8 696.1,290.1 696.5,290.2 696.8,291.2 697.2,291.5 697.5,292.6 697.8,292.0 698.2,292.6 698.5,292.1 698.9,292.8 699.2,291.9 699.6,292.7 699.9,291.6 700.3,292.7 700.6,291.8 700.9,293.2 701.3,292.9 701.6,295.0 702.0,294.9 702.3,296.6 702.7,296.6 703.0,298.1 703.3,295.7 703.6,294.4 704.0,290.9 704.3,291.3 704.6,286.6 705.0,286.9 705.3,283.1 705.6,282.1 705.9,282.2 706.3,285.1 706.6,285.2 707.0,287.9 707.3,287.3 707.7,290.2 708.0,291.2 708.3,291.0 708.6,289.2 709.0,289.8 709.3,287.0 709.6,287.9 709.9,285.3 710.2,286.5 710.6,283.2 710.9,285.4 711.2,282.9 711.5,284.4 711.9,280.7 712.2,282.2 712.5,280.5 712.8,281.3 713.2,280.0 713.5,280.2 713.8,279.5 714.2,279.9 714.5,277.8 714.8,280.3 715.2,278.0 715.5,279.6 715.8,278.3 716.2,278.7 716.5,277.3 716.8,278.2 717.2,276.8 717.5,277.7 717.8,276.7 718.1,278.4 718.4,277.3 718.8,278.5 719.1,277.1 719.4,278.7 719.7,277.2 720.0,278.2 720.3,276.5 720.7,276.6 721.0,272.6 721.4,275.0 721.7,271.1 722.0,271.9 722.4,268.6 722.7,269.0 723.1,265.9 723.4,267.0 723.8,264.8 724.1,266.0 724.5,265.4 724.8,267.7 725.1,266.4 725.5,267.7 725.9,267.7 726.2,268.9 726.5,267.6 726.9,269.6 727.2,268.5 727.6,269.9 727.9,268.2 728.3,269.6 728.6,268.1 729.0,268.7 729.3,266.3 729.7,268.9 730.0,267.3 730.3,269.1 730.7,267.0 731.0,269.7 731.3,265.6 731.7,270.2 732.0,267.9 732.3,269.0 732.7,268.7 733.0,269.6 733.3,268.5 733.7,270.2 734.0,269.2 734.3,270.4 734.7,269.0 735.0,270.3 735.3,269.2 735.7,270.0 736.0,268.0 736.4,270.2 736.7,268.3 737.0,268.8 737.4,267.4 737.7,268.3 738.0,267.3 738.4,267.7 738.7,266.0 739.1,267.2 739.4,266.2 739.7,266.8 740.1,265.4 740.4,266.5 740.7,264.5 741.0,265.1 741.4,264.0 741.7,264.3 742.0,263.0 742.3,263.9 742.7,262.7 743.0,262.7 743.3,263.0 743.6,263.9 744.0,263.4 744.3,264.9 744.6,264.9 745.0,266.1 745.3,265.1 745.6,267.8 745.9,266.5 746.2,269.2 746.6,268.0 746.9,269.0 747.2,268.4 747.6,268.6 747.9,267.5 748.2,268.2 748.6,266.8 748.9,267.7 749.3,266.3 749.6,267.0 749.9,266.0 750.3,266.5 750.6,265.7 751.0,266.2 751.3,264.5 751.6,265.9 752.0,264.3 752.4,265.4 752.7,264.1 753.0,264.9 753.4,263.1 753.8,264.1 754.1,263.4 754.5,265.7 754.8,264.3 755.1,265.4 755.5,264.7 755.9,265.8 756.2,265.6 756.5,266.7 756.9,266.2 757.2,266.5 757.6,265.3 757.9,266.0 758.2,263.6 758.6,265.2 758.9,263.8 759.3,265.3 759.6,262.0 759.9,264.8 760.3,262.5 760.6,262.7 761.0,261.7 761.3,262.7 761.6,261.0 762.0,262.4 762.4,259.8 762.7,261.5 763.0,259.5 763.4,261.4 763.8,259.3 764.1,260.5 764.4,257.6 764.8,259.8 765.1,255.9 765.5,259.0 765.8,256.3 766.1,257.0 766.5,255.4 766.8,255.7 767.2,254.0 767.5,254.6 767.8,253.0 768.2,255.2 768.5,251.9 768.9,254.6 769.2,251.1 769.5,253.8 769.9,251.7 770.2,253.5 770.5,249.8 770.9,253.6 771.2,250.1 771.6,251.9 771.9,250.5 772.2,252.0 772.6,250.5 772.9,250.9 773.2,250.4 773.6,250.7 773.9,247.0 774.2,251.9 774.6,249.1 774.9,251.3 775.2,249.8 775.6,250.6 775.9,250.0 776.2,250.2 776.6,249.3 776.9,251.4 777.3,246.5 777.6,249.7 777.9,245.8 778.3,249.3 778.6,244.4 778.9,248.2 779.3,245.6 779.6,247.4 779.9,244.3 780.3,246.4 780.6,244.7 780.9,247.1 781.2,246.4 781.5,250.6 781.9,248.8 782.2,251.2 782.5,251.9 782.8,252.4 783.2,249.5 783.5,254.7 783.9,251.3 784.2,254.3 784.5,251.5 784.9,255.5 785.2,250.4 785.6,253.9 785.9,252.7 786.2,253.4 786.6,252.9 786.9,253.9 787.2,252.5 787.6,253.1 787.9,252.3 788.2,252.7 788.6,252.2 788.9,252.7 789.2,251.8 789.6,252.4 789.9,251.8 790.2,251.9 790.6,251.4 790.9,251.6 791.2,251.3 791.6,252.3 791.9,251.8 792.3,253.1 792.6,252.2 792.9,253.9 793.3,253.1 793.6,254.6 793.9,254.0 794.3,255.1 794.6,254.8 794.9,256.2 795.3,255.8 795.6,256.5 795.9,255.7 796.3,256.0 796.6,254.3 796.9,255.5 797.3,253.6 797.6,254.7 797.9,252.2 798.3,254.1 798.6,251.6 798.9,253.4 799.3,251.0 799.6,252.1 799.9,250.1 800.3,251.3 800.6,250.1 800.9,250.4 801.3,250.1 801.6,250.8 802.0,249.6 802.3,250.9 802.6,248.9 803.0,251.9 803.3,249.2 803.6,251.9 804.0,249.7 804.3,251.4 804.7,249.9 805.0,251.0 805.3,250.3 805.7,252.7 806.0,252.0 806.4,252.9 806.7,252.8 807.0,253.7 807.4,253.2 807.7,254.9 808.1,254.2 808.4,255.4 808.8,255.7 809.1,256.2 809.5,254.6 809.8,257.1 810.1,255.2 810.5,255.8 810.9,255.1 811.2,255.5 811.5,254.5 811.9,255.2 812.2,255.2 812.6,257.6 812.9,256.6 813.3,258.8 813.6,257.6 814.0,260.0 814.3,259.1 814.7,260.9 815.0,261.3 815.3,261.4 815.7,260.0 816.0,260.0 816.4,258.6 816.7,258.9 817.0,257.2 817.4,258.1 817.7,255.8 818.1,256.9 818.4,254.1 818.8,254.6 819.1,254.0 819.4,255.6 819.8,253.8 820.1,253.9 820.5,253.4 820.8,253.8 821.1,252.0 821.5,254.2 821.8,250.8 822.2,253.5 822.5,252.4 822.9,253.6 823.2,251.4 823.5,252.9 823.9,249.8 824.2,251.4 824.6,249.2 825.0,250.5 825.3,248.0 825.6,249.8 826.0,248.8 826.3,251.1 826.7,250.2 827.0,252.6 827.4,251.6 827.7,254.7 828.0,252.1 828.4,258.4 828.7,254.4 829.1,258.8 829.4,258.1 829.7,257.9 830.1,256.0 830.4,256.3 830.7,253.3 831.0,253.8 831.4,252.0 831.7,253.2 832.0,249.7 832.3,250.0 832.7,247.8 833.0,247.9 833.3,247.2 833.6,248.3 834.0,247.0 834.3,248.6 834.6,247.5 835.0,249.0 835.3,247.7 835.6,249.1 835.9,248.1 836.2,248.3 836.6,247.6 836.9,247.7 837.3,244.6 837.6,249.3 837.9,245.5 838.3,249.0 838.6,245.2 838.9,245.4 839.3,244.6 839.6,245.2 839.9,243.6 840.3,243.9 840.6,243.0 840.9,244.2 841.3,242.7 841.6,244.7 842.0,242.0 842.3,245.3 842.7,243.6 843.0,244.6 843.4,243.9 843.7,244.5 844.1,243.6 844.4,244.5" fill="none" stroke="#FF0000" stroke-width="1.7" stroke-linejoin="round" stroke-linecap="round"/>
<polyline points="70.6,333.8 70.9,334.5 71.3,334.6 71.6,334.6 71.9,334.6 72.3,334.6 72.6,334.6 72.9,334.6 73.3,334.3 73.6,334.5 73.9,333.5 74.3,334.2 74.6,334.2 75.0,333.2 75.3,333.6 75.6,334.0 76.0,332.6 76.3,332.7 76.6,332.1 77.0,332.1 77.3,332.9 77.6,332.1 78.0,333.4 78.3,332.1 78.6,333.3 79.0,331.8 79.3,333.4 79.6,332.6 80.0,332.2 80.3,332.3 80.6,332.6 81.0,332.5 81.3,332.3 81.7,330.9 82.0,331.3 82.3,331.8 82.7,331.2 83.0,331.1 83.3,331.6 83.7,331.5 84.0,330.9 84.3,330.4 84.7,330.2 85.0,329.5 85.3,330.3 85.7,330.6 86.0,330.8 86.3,330.5 86.6,330.7 87.0,330.5 87.3,329.9 87.6,328.7 88.0,329.1 88.3,328.4 88.6,328.1 88.9,328.8 89.3,329.1 89.6,327.6 89.9,328.2 90.3,327.5 90.6,327.7 90.9,326.8 91.2,328.0 91.6,326.6 91.9,327.1 92.2,326.6 92.6,325.6 92.9,326.4 93.2,326.1 93.6,326.0 93.9,326.0 94.2,325.9 94.5,325.3 94.9,327.0 95.2,326.9 95.5,327.4 95.9,327.2 96.2,326.8 96.5,326.2 96.8,326.3 97.2,325.8 97.5,325.8 97.8,326.0 98.2,325.0 98.5,324.3 98.8,325.0 99.1,323.6 99.5,323.7 99.8,324.7 100.1,324.3 100.5,323.2 100.8,324.0 101.1,323.9 101.4,324.3 101.8,324.1 102.1,324.6 102.4,323.7 102.8,324.1 103.1,324.3 103.4,325.2 103.8,324.0 104.1,324.8 104.4,323.7 104.7,324.1 105.1,323.5 105.4,324.2 105.7,324.1 106.1,323.3 106.4,322.3 106.7,321.8 107.0,321.6 107.4,322.9 107.7,322.6 108.0,322.6 108.4,322.1 108.7,321.7 109.0,322.6 109.3,322.2 109.7,322.3 110.0,322.5 110.3,322.5 110.7,322.2 111.0,321.6 111.3,321.4 111.6,321.8 112.0,321.2 112.3,322.5 112.6,321.0 113.0,321.5 113.3,321.3 113.6,321.5 113.9,321.3 114.3,320.7 114.6,320.1 114.9,321.0 115.3,320.2 115.6,321.6 115.9,321.8 116.2,319.8 116.6,319.9 116.9,319.5 117.2,319.6 117.6,320.3 117.9,320.9 118.2,320.5 118.6,320.0 118.9,320.9 119.2,320.5 119.5,321.5 119.9,321.9 120.2,322.0 120.5,322.3 120.9,321.7 121.2,322.3 121.5,322.6 121.8,322.6 122.2,322.4 122.5,322.0 122.8,322.2 123.2,322.0 123.5,320.6 123.9,321.1 124.2,320.9 124.5,320.1 124.9,320.5 125.2,320.0 125.6,319.2 125.9,320.2 126.2,319.5 126.6,320.1 126.9,320.2 127.3,320.3 127.6,319.9 128.0,319.5 128.3,319.8 128.6,319.3 129.0,320.3 129.3,321.4 129.7,320.8 130.0,320.5 130.3,320.7 130.7,320.6 131.0,320.2 131.3,320.5 131.7,320.0 132.0,320.9 132.3,320.0 132.7,320.3 133.0,321.3 133.3,319.7 133.7,321.2 134.0,320.5 134.3,321.1 134.7,320.5 135.0,320.0 135.3,319.6 135.7,318.9 136.0,319.0 136.3,318.7 136.7,318.9 137.0,318.1 137.3,317.3 137.7,317.8 138.0,316.9 138.3,317.3 138.7,316.8 139.0,316.5 139.3,316.9 139.7,316.0 140.0,316.7 140.3,317.5 140.7,317.2 141.0,317.8 141.3,317.9 141.7,317.6 142.0,317.5 142.3,317.7 142.7,317.4 143.0,317.1 143.3,317.0 143.7,316.1 144.0,317.0 144.3,316.4 144.7,315.6 145.0,315.8 145.3,315.4 145.7,316.2 146.0,316.0 146.3,315.7 146.7,315.6 147.0,314.9 147.3,315.6 147.7,317.5 148.0,316.2 148.3,316.4 148.7,316.3 149.0,316.7 149.3,317.7 149.7,317.2 150.0,317.5 150.3,317.1 150.7,316.0 151.0,315.8 151.3,315.6 151.7,315.2 152.0,315.4 152.3,314.9 152.7,314.5 153.0,313.8 153.3,314.6 153.7,314.7 154.0,313.4 154.3,312.6 154.7,312.4 155.0,312.4 155.3,311.6 155.7,311.1 156.0,311.0 156.3,310.5 156.7,310.2 157.0,310.5 157.3,310.3 157.6,310.2 157.9,311.4 158.3,311.2 158.6,310.4 158.9,311.2 159.2,311.6 159.6,310.3 159.9,310.7 160.2,310.2 160.6,310.5 160.9,310.9 161.2,311.8 161.5,312.1 161.8,312.2 162.2,312.3 162.5,312.5 162.8,312.3 163.2,312.4 163.5,312.1 163.9,312.7 164.2,311.6 164.5,311.8 164.9,311.4 165.2,311.6 165.6,312.5 165.9,313.0 166.2,312.7 166.6,313.2 166.9,313.6 167.3,313.3 167.6,313.1 168.0,314.1 168.3,314.5 168.6,314.8 169.0,314.0 169.3,313.2 169.7,313.5 170.0,313.8 170.3,314.4 170.7,313.9 171.0,314.0 171.4,313.8 171.7,313.3 172.0,314.1 172.4,314.2 172.7,313.1 173.1,313.6 173.4,313.1 173.8,313.2 174.1,312.6 174.4,311.9 174.8,311.3 175.1,312.0 175.5,311.0 175.8,310.5 176.1,310.2 176.5,309.9 176.8,309.5 177.2,309.4 177.5,309.5 177.8,310.1 178.2,309.2 178.5,310.0 178.9,308.8 179.2,308.3 179.5,309.1 179.9,309.1 180.2,308.2 180.6,308.4 180.9,308.8 181.2,308.0 181.6,307.9 181.9,309.1 182.3,309.2 182.6,307.9 183.0,308.3 183.3,309.1 183.6,308.9 184.0,308.2 184.3,308.7 184.7,309.3 185.0,308.8 185.3,309.3 185.7,309.2 186.0,309.7 186.3,310.4 186.7,309.6 187.0,311.6 187.3,311.7 187.7,311.0 188.0,312.4 188.3,312.1 188.7,312.5 189.0,311.5 189.3,312.9 189.7,313.1 190.0,313.8 190.3,313.4 190.7,312.9 191.0,313.0 191.3,312.1 191.7,312.7 192.0,311.7 192.3,311.3 192.7,312.2 193.0,311.7 193.3,310.9 193.7,311.5 194.0,310.5 194.3,310.8 194.7,309.4 195.0,309.9 195.3,310.0 195.7,309.9 196.0,310.0 196.3,310.0 196.7,310.5 197.0,309.2 197.3,309.6 197.7,311.0 198.0,311.8 198.3,312.1 198.7,311.8 199.0,311.3 199.3,312.1 199.7,310.7 200.0,311.0 200.3,310.6 200.7,310.7 201.0,311.3 201.3,309.6 201.7,309.8 202.0,309.3 202.3,308.7 202.7,309.3 203.0,308.2 203.3,308.0 203.7,307.8 204.0,307.4 204.3,307.4 204.7,306.7 205.0,306.0 205.3,306.2 205.7,305.8 206.0,305.6 206.4,305.6 206.7,304.9 207.0,305.5 207.4,305.0 207.7,305.5 208.1,303.9 208.4,303.9 208.8,303.4 209.1,303.3 209.4,303.5 209.8,304.0 210.1,303.7 210.5,303.1 210.8,303.4 211.1,303.9 211.5,302.8 211.8,302.9 212.2,302.6 212.5,302.5 212.8,302.3 213.2,302.6 213.5,302.9 213.9,302.7 214.2,301.9 214.5,302.6 214.9,301.7 215.2,300.5 215.6,301.3 215.9,300.6 216.2,301.3 216.6,299.7 216.9,300.4 217.3,300.3 217.6,299.3 218.0,299.9 218.3,298.4 218.6,297.5 219.0,298.3 219.3,298.5 219.7,298.7 220.0,297.5 220.3,298.1 220.7,297.6 221.0,297.9 221.3,298.9 221.7,298.6 222.0,298.5 222.3,298.1 222.7,298.2 223.0,298.8 223.3,298.3 223.7,297.9 224.0,299.7 224.3,299.8 224.7,298.7 225.0,298.8 225.3,298.0 225.7,298.2 226.0,298.7 226.4,297.2 226.7,296.6 227.0,296.4 227.4,297.2 227.7,294.9 228.1,296.1 228.4,294.5 228.8,294.3 229.1,294.0 229.4,292.7 229.8,294.3 230.1,292.5 230.5,294.0 230.8,294.4 231.1,293.0 231.5,292.9 231.8,290.8 232.2,290.8 232.5,291.0 232.8,290.1 233.2,289.7 233.5,290.2 233.8,289.4 234.2,289.6 234.5,288.5 234.8,289.5 235.2,287.7 235.5,289.2 235.8,287.2 236.2,287.5 236.5,287.6 236.8,288.2 237.2,287.5 237.5,287.5 237.8,287.4 238.2,289.7 238.5,290.0 238.8,290.3 239.2,290.0 239.5,289.2 239.8,289.8 240.2,291.4 240.5,292.2 240.8,290.5 241.2,292.3 241.5,293.2 241.8,292.6 242.2,293.4 242.5,292.5 242.8,293.3 243.1,294.4 243.5,293.3 243.8,294.6 244.1,294.3 244.4,294.1 244.8,294.7 245.1,296.6 245.4,296.5 245.7,295.5 246.0,297.0 246.4,297.1 246.7,297.9 247.0,298.8 247.3,297.9 247.7,296.5 248.0,295.8 248.4,295.6 248.7,295.1 249.1,294.6 249.4,294.7 249.8,292.2 250.1,292.5 250.4,291.8 250.8,290.3 251.1,289.0 251.5,289.6 251.8,288.6 252.2,287.2 252.5,286.0 252.8,285.6 253.2,285.9 253.5,285.7 253.9,286.0 254.2,283.6 254.5,284.7 254.9,282.2 255.2,282.8 255.6,282.3 255.9,281.6 256.2,281.3 256.6,280.0 256.9,279.0 257.3,281.5 257.6,281.0 258.0,279.7 258.3,278.2 258.6,279.9 259.0,278.7 259.3,278.7 259.7,278.6 260.0,277.5 260.3,277.1 260.7,278.3 261.0,278.0 261.4,277.0 261.7,277.7 262.0,277.5 262.4,277.3 262.7,277.6 263.1,275.0 263.4,273.8 263.8,273.7 264.1,273.5 264.4,272.6 264.8,274.0 265.1,271.9 265.5,273.2 265.8,270.0 266.1,271.4 266.5,269.7 266.8,269.6 267.2,268.0 267.5,267.5 267.9,267.5 268.2,267.0 268.6,265.3 268.9,265.5 269.2,266.7 269.6,264.4 269.9,266.7 270.3,264.8 270.6,264.7 271.0,262.5 271.3,264.5 271.7,265.5 272.0,264.8 272.3,264.1 272.7,265.1 273.0,266.1 273.3,269.2 273.7,270.2 274.0,271.2 274.3,271.8 274.7,270.3 275.0,271.0 275.3,270.5 275.7,269.9 276.0,270.1 276.3,269.5 276.7,271.7 277.0,270.7 277.3,269.0 277.7,271.8 278.0,267.5 278.3,269.6 278.7,267.2 279.0,267.1 279.3,266.7 279.7,266.1 280.0,265.0 280.3,264.2 280.7,264.8 281.0,264.3 281.3,261.5 281.7,262.9 282.0,261.5 282.3,262.9 282.7,262.7 283.0,262.1 283.3,260.7 283.7,263.1 284.0,262.5 284.3,263.8 284.7,260.7 285.0,260.0 285.3,261.8 285.7,262.6 286.0,262.3 286.4,264.2 286.7,265.9 287.0,267.8 287.4,271.6 287.7,273.3 288.1,274.0 288.4,274.7 288.8,277.5 289.1,276.1 289.4,276.1 289.8,275.2 290.1,274.7 290.5,275.2 290.8,273.9 291.1,271.4 291.5,268.4 291.8,269.3 292.2,268.1 292.5,266.0 292.8,267.0 293.2,265.5 293.5,265.7 293.8,264.5 294.2,264.8 294.5,265.1 294.8,264.6 295.2,261.1 295.5,260.0 295.8,262.5 296.2,259.9 296.5,261.2 296.8,261.1 297.2,259.1 297.5,260.0 297.8,260.9 298.2,261.6 298.5,263.1 298.8,265.0 299.1,264.1 299.5,263.6 299.8,265.0 300.1,265.2 300.5,261.3 300.8,263.6 301.1,264.1 301.4,264.3 301.8,265.1 302.1,265.5 302.4,267.8 302.8,268.2 303.1,268.2 303.4,268.2 303.8,267.5 304.1,267.6 304.4,265.3 304.7,264.1 305.1,265.2 305.4,265.6 305.7,264.9 306.1,260.8 306.4,261.8 306.7,258.9 307.0,259.4 307.4,258.6 307.7,258.9 308.0,259.2 308.4,256.1 308.7,256.8 309.0,256.3 309.3,256.1 309.7,254.5 310.0,252.5 310.3,253.9 310.7,253.8 311.0,253.5 311.3,251.3 311.7,254.1 312.0,251.4 312.3,250.3 312.7,247.2 313.0,247.4 313.3,247.1 313.7,249.0 314.0,247.5 314.3,244.6 314.7,247.2 315.0,244.0 315.3,244.6 315.7,243.0 316.0,243.8 316.3,243.6 316.7,245.6 317.0,243.6 317.3,239.7 317.7,243.3 318.0,241.7 318.3,239.5 318.7,239.0 319.0,235.6 319.3,234.1 319.7,234.1 320.0,234.3 320.3,232.8 320.7,232.7 321.0,232.5 321.3,232.1 321.7,232.2 322.0,232.7 322.3,233.6 322.7,229.8 323.0,230.6 323.3,230.3 323.7,230.2 324.0,230.3 324.3,228.5 324.7,228.8 325.0,227.9 325.3,231.5 325.7,230.1 326.0,228.8 326.3,230.1 326.6,233.5 327.0,235.2 327.3,234.1 327.6,233.2 327.9,232.2 328.3,231.9 328.6,232.4 328.9,234.0 329.2,230.4 329.6,233.6 329.9,233.2 330.2,233.0 330.6,235.2 330.9,230.6 331.2,229.4 331.5,228.8 331.9,231.9 332.2,233.1 332.5,235.0 332.8,234.0 333.2,235.4 333.5,232.4 333.8,235.7 334.2,236.6 334.5,234.9 334.8,237.0 335.2,237.4 335.5,238.5 335.8,235.5 336.2,235.6 336.5,241.7 336.8,239.8 337.2,238.8 337.5,238.8 337.9,234.9 338.2,231.3 338.6,235.1 338.9,229.8 339.2,231.1 339.6,226.8 339.9,224.9 340.3,228.4 340.6,224.3 341.0,223.8 341.4,220.9 341.7,223.5 342.1,219.0 342.4,217.2 342.8,219.8 343.1,219.3 343.4,215.9 343.8,221.0 344.1,216.8 344.5,216.0 344.8,217.2 345.2,221.2 345.5,225.0 345.8,225.3 346.2,225.2 346.5,226.5 346.8,229.9 347.2,230.8 347.5,232.5 347.9,231.1 348.2,231.5 348.6,234.8 348.9,234.4 349.2,235.7 349.6,238.3 349.9,240.5 350.3,240.6 350.6,239.4 351.0,242.5 351.3,243.8 351.7,247.8 352.0,249.2 352.4,251.3 352.7,252.0 353.1,253.8 353.4,258.5 353.8,263.8 354.1,262.2 354.4,263.1 354.8,260.4 355.1,261.4 355.5,259.3 355.8,256.3 356.1,255.1 356.5,257.0 356.8,253.2 357.2,252.0 357.5,251.0 357.8,253.4 358.1,252.4 358.5,255.3 358.8,252.3 359.1,253.5 359.4,258.2 359.8,260.0 360.1,261.5 360.4,259.5 360.7,262.5 361.0,263.9 361.4,264.7 361.7,265.6 362.0,266.0 362.3,264.2 362.7,261.9 363.0,259.3 363.3,257.4 363.7,254.4 364.0,252.7 364.3,250.4 364.7,249.4 365.0,245.0 365.3,243.9 365.7,244.7 366.0,238.1 366.4,239.7 366.7,238.0 367.0,240.1 367.4,235.9 367.7,234.2 368.1,232.6 368.4,229.6 368.8,230.0 369.1,229.5 369.4,228.0 369.8,230.1 370.1,228.9 370.4,227.3 370.8,232.9 371.1,228.5 371.4,227.3 371.8,227.7 372.1,228.5 372.4,228.9 372.8,223.7 373.1,221.2 373.4,220.7 373.8,220.0 374.1,222.5 374.4,223.5 374.7,225.1 375.0,226.4 375.3,226.8 375.6,225.1 375.9,228.5 376.2,228.8 376.6,226.8 376.9,226.2 377.3,220.9 377.6,220.9 378.0,214.5 378.3,213.5 378.6,208.4 379.0,205.9 379.3,207.3 379.7,207.0 380.0,201.0 380.3,202.9 380.7,205.9 381.0,205.9 381.4,207.6 381.7,204.1 382.0,211.0 382.4,208.4 382.7,206.7 383.1,211.8 383.4,208.5 383.8,211.0 384.1,207.5 384.4,209.8 384.7,205.9 385.0,203.0 385.4,206.2 385.7,201.1 386.0,200.0 386.3,202.8 386.7,199.9 387.0,202.8 387.3,203.7 387.7,204.6 388.0,203.8 388.3,210.0 388.7,210.9 389.0,214.0 389.3,212.2 389.7,209.4 390.0,212.0 390.3,210.6 390.7,208.8 391.0,206.3 391.3,205.5 391.7,201.3 392.0,199.4 392.3,201.9 392.7,199.7 393.0,194.8 393.3,198.3 393.7,192.4 394.0,195.2 394.3,195.4 394.7,191.4 395.0,195.0 395.3,196.4 395.6,197.5 395.9,198.4 396.2,201.2 396.6,202.7 396.9,200.1 397.2,203.7 397.5,201.0 397.8,199.1 398.1,196.4 398.4,199.8 398.8,194.1 399.1,194.3 399.4,194.5 399.7,188.4 400.0,186.0 400.3,187.4 400.7,185.2 401.0,184.1 401.3,186.2 401.7,182.7 402.0,186.5 402.3,189.6 402.7,185.3 403.0,187.9 403.3,181.9 403.7,185.5 404.0,183.8 404.3,185.1 404.7,185.2 405.0,183.8 405.3,182.8 405.7,181.3 406.0,182.4 406.4,183.9 406.7,186.1 407.0,185.8 407.4,184.8 407.7,187.9 408.1,182.2 408.4,177.6 408.8,182.5 409.1,186.8 409.4,183.9 409.7,186.3 410.0,183.0 410.3,192.7 410.6,192.5 411.0,195.4 411.3,190.8 411.7,189.8 412.0,192.3 412.4,192.8 412.7,189.6 413.1,184.5 413.4,186.9 413.8,187.5 414.1,185.4 414.4,188.7 414.8,189.5 415.1,181.4 415.5,188.9 415.8,182.9 416.1,176.3 416.5,179.8 416.8,179.5 417.2,177.6 417.5,175.0 417.8,171.6 418.2,172.7 418.5,173.5 418.9,174.8 419.2,176.5 419.5,169.2 419.9,171.5 420.2,171.1 420.6,167.8 420.9,165.5 421.2,166.2 421.6,169.6 421.9,164.5 422.2,163.9 422.5,168.0 422.8,172.2 423.1,175.2 423.4,179.4 423.8,180.0 424.1,182.3 424.4,185.7 424.7,189.1 425.0,183.6 425.3,191.2 425.6,185.9 425.9,191.0 426.2,193.8 426.6,194.3 426.9,186.9 427.3,186.7 427.6,187.5 428.0,183.9 428.3,185.2 428.6,175.0 429.0,177.6 429.3,180.2 429.7,178.4 430.0,178.8 430.3,179.5 430.7,185.3 431.0,184.4 431.3,190.6 431.7,184.9 432.0,182.4 432.3,182.2 432.7,184.9 433.0,186.2 433.3,187.1 433.6,184.0 434.0,190.1 434.3,185.5 434.6,192.4 434.9,196.3 435.3,191.9 435.6,192.9 435.9,196.3 436.2,196.2 436.6,195.5 436.9,195.4 437.3,196.0 437.6,203.9 438.0,198.0 438.3,197.6 438.7,204.7 439.0,199.6 439.4,202.5 439.7,205.4 440.0,196.9 440.3,203.6 440.6,206.4 441.0,198.5 441.3,195.6 441.6,193.8 441.9,195.0 442.2,194.1 442.5,198.1 442.8,190.1 443.1,194.6 443.5,191.4 443.8,190.2 444.1,185.2 444.4,182.5 444.7,178.8 445.1,176.8 445.4,179.7 445.8,182.3 446.1,173.8 446.5,174.6 446.8,175.6 447.2,169.9 447.5,168.8 447.8,166.1 448.2,170.7 448.5,170.9 448.9,170.1 449.2,166.3 449.5,164.6 449.9,171.0 450.2,165.5 450.6,170.6 450.9,168.3 451.2,166.2 451.6,163.2 451.9,159.5 452.3,161.3 452.6,165.2 453.0,159.2 453.3,157.2 453.6,162.1 454.0,161.5 454.3,158.0 454.7,155.7 455.0,157.5 455.3,154.8 455.6,158.7 455.9,161.0 456.2,157.8 456.6,156.4 456.9,156.8 457.2,156.7 457.5,155.0 457.8,152.9 458.1,154.7 458.4,164.7 458.8,157.3 459.1,162.5 459.4,162.5 459.7,162.0 460.1,168.0 460.4,166.3 460.8,168.9 461.1,171.5 461.5,177.4 461.8,176.8 462.2,174.2 462.5,178.8 462.8,180.6 463.1,173.7 463.4,179.2 463.8,176.2 464.1,166.0 464.4,170.0 464.7,164.9 465.0,163.8 465.3,167.7 465.7,173.2 466.0,170.6 466.4,175.7 466.7,178.1 467.0,174.6 467.4,180.9 467.7,183.1 468.1,178.3 468.4,181.1 468.8,186.2 469.1,182.9 469.4,186.0 469.8,179.6 470.1,177.3 470.5,181.4 470.8,181.2 471.2,180.3 471.5,174.9 471.9,172.5 472.2,171.5 472.5,166.2 472.8,163.7 473.1,158.1 473.5,161.8 473.8,164.8 474.1,159.5 474.4,153.8 474.8,152.4 475.1,143.3 475.5,141.0 475.8,138.7 476.2,147.0 476.5,149.3 476.8,142.1 477.2,145.4 477.5,146.0 477.8,149.1 478.1,149.7 478.4,151.3 478.8,157.5 479.1,168.0 479.4,186.2 479.7,181.5 480.0,179.4 480.3,173.9 480.6,176.8 480.9,167.9 481.2,162.5 481.6,163.9 481.9,159.9 482.3,157.5 482.6,160.6 483.0,169.3 483.3,161.7 483.6,166.4 484.0,171.4 484.3,168.9 484.7,172.2 485.0,175.0 485.3,179.8 485.7,173.9 486.0,174.1 486.3,173.5 486.7,175.1 487.0,181.9 487.3,181.1 487.7,181.3 488.0,182.5 488.3,182.6 488.7,176.0 489.0,170.9 489.3,170.6 489.7,167.4 490.0,166.2 490.3,163.6 490.7,159.2 491.0,165.8 491.3,167.7 491.7,164.7 492.0,163.5 492.3,160.3 492.7,159.3 493.0,160.0 493.3,163.7 493.6,158.7 494.0,165.0 494.3,164.5 494.6,167.3 494.9,164.2 495.3,165.7 495.6,165.4 495.9,161.6 496.2,163.8 496.6,162.2 496.9,163.6 497.2,160.1 497.5,159.2 497.8,154.8 498.1,160.0 498.4,158.6 498.8,157.5 499.1,158.1 499.4,162.2 499.8,160.6 500.1,171.4 500.5,174.0 500.8,170.0 501.2,168.5 501.5,171.3 501.9,171.2 502.2,167.7 502.5,166.7 502.8,169.1 503.1,161.4 503.5,162.7 503.8,165.7 504.1,162.9 504.4,160.0 504.7,158.7 505.1,157.5 505.4,152.1 505.8,158.0 506.1,150.4 506.5,151.9 506.8,150.2 507.2,155.2 507.5,152.5 507.8,148.9 508.1,146.6 508.4,145.7 508.8,152.9 509.1,152.1 509.4,148.5 509.7,148.9 510.1,144.8 510.4,151.2 510.8,155.2 511.1,151.6 511.5,156.4 511.8,160.7 512.2,164.4 512.5,162.5 512.8,167.3 513.1,164.0 513.4,163.9 513.8,169.8 514.1,171.3 514.4,172.2 514.7,169.6 515.0,168.8 515.3,171.3 515.6,176.5 515.9,177.8 516.2,184.3 516.6,190.0 516.9,183.5 517.2,191.8 517.5,195.0 517.8,193.5 518.1,189.1 518.4,185.9 518.8,184.6 519.1,191.8 519.4,184.9 519.7,179.3 520.0,181.2 520.4,181.0 520.7,181.3 521.0,184.7 521.4,185.5 521.8,178.9 522.1,183.7 522.5,185.9 522.8,183.4 523.1,179.0 523.5,180.0 523.8,182.4 524.2,180.0 524.5,187.4 524.9,188.1 525.2,191.6 525.6,191.7 525.9,192.4 526.2,193.8 526.6,198.9 526.9,196.4 527.2,199.3 527.5,196.7 527.8,200.9 528.1,202.3 528.4,201.3 528.8,201.2 529.1,202.0 529.4,196.5 529.7,194.9 530.0,193.6 530.3,193.3 530.6,187.5 530.9,192.9 531.2,193.4 531.5,200.9 531.9,204.1 532.2,210.2 532.5,212.5 532.8,211.5 533.2,212.9 533.5,209.7 533.9,206.1 534.2,206.3 534.6,207.8 534.9,204.8 535.3,205.4 535.6,202.5 536.0,201.4 536.3,197.4 536.6,200.8 537.0,200.4 537.4,195.9 537.7,196.2 538.0,195.6 538.4,192.8 538.8,193.8 539.1,192.3 539.4,194.0 539.7,191.9 540.0,187.4 540.3,190.3 540.6,186.3 540.9,190.4 541.2,190.0 541.6,196.4 542.0,199.7 542.3,194.4 542.6,195.2 543.0,201.2 543.3,202.1 543.6,200.6 544.0,205.0 544.3,204.7 544.6,207.1 545.0,207.8 545.3,214.6 545.6,215.0 545.9,219.0 546.3,219.5 546.6,220.5 547.0,223.3 547.3,222.0 547.7,218.7 548.0,222.0 548.3,224.3 548.7,224.2 549.0,226.5 549.3,231.4 549.7,231.1 550.0,235.7 550.3,238.0 550.7,236.8 551.0,240.0 551.4,240.4 551.7,244.8 552.0,242.7 552.4,246.8 552.8,243.6 553.1,248.5 553.5,248.5 553.8,243.8 554.1,247.2 554.5,248.8 554.8,248.3 555.2,244.2 555.5,243.6 555.9,243.0 556.2,239.2 556.6,237.6 556.9,232.5 557.2,233.7 557.6,234.5 557.9,230.8 558.3,227.1 558.6,227.8 559.0,221.5 559.3,222.8 559.7,221.9 560.0,218.8 560.3,218.3 560.7,216.7 561.0,219.4 561.4,214.7 561.7,215.5 562.0,217.6 562.4,211.1 562.7,214.8 563.0,209.8 563.4,209.5 563.7,208.5 564.1,207.9 564.4,207.5 564.7,205.9 565.1,212.2 565.4,214.8 565.8,208.1 566.1,216.4 566.5,215.6 566.8,215.4 567.2,215.1 567.5,216.2 567.8,219.2 568.2,218.0 568.5,219.8 568.9,222.7 569.2,220.8 569.5,223.9 569.9,225.8 570.2,225.2 570.6,228.0 570.9,226.4 571.2,226.2 571.6,228.1 571.9,224.4 572.3,223.1 572.6,225.4 572.9,227.1 573.3,229.0 573.6,232.0 573.9,229.2 574.3,230.4 574.6,230.8 574.9,230.3 575.3,231.1 575.6,231.2 575.9,233.7 576.3,229.5 576.6,234.1 577.0,235.5 577.3,232.0 577.7,235.9 578.0,235.2 578.4,235.5 578.7,231.5 579.1,232.1 579.4,230.0 579.7,231.7 580.1,232.3 580.4,230.3 580.7,229.4 581.1,230.0 581.4,229.7 581.7,234.2 582.1,236.6 582.4,237.4 582.7,238.6 583.1,240.7 583.4,239.6 583.8,238.8 584.1,238.5 584.5,242.5 584.8,241.7 585.1,240.7 585.5,241.7 585.9,241.6 586.2,244.9 586.5,246.5 586.9,247.5 587.2,248.5 587.5,249.1 587.8,250.3 588.1,256.3 588.5,256.8 588.8,257.8 589.1,259.3 589.4,259.0 589.7,260.9 590.1,268.2 590.4,271.6 590.8,274.0 591.1,271.9 591.5,269.9 591.8,265.3 592.1,263.1 592.5,262.0 592.8,261.6 593.1,261.8 593.5,257.6 593.8,260.9 594.1,258.2 594.4,255.0 594.7,255.3 595.1,253.2 595.4,254.9 595.7,252.1 596.1,255.0 596.4,254.2 596.7,249.8 597.1,250.8 597.4,251.6 597.7,253.5 598.1,253.7 598.4,251.9 598.8,252.5 599.1,251.5 599.5,253.2 599.8,248.9 600.1,251.5 600.5,249.6 600.9,247.7 601.2,244.5 601.5,247.3 601.9,245.0 602.2,243.2 602.6,242.9 602.9,238.8 603.2,241.8 603.6,237.6 603.9,239.3 604.2,235.4 604.6,237.9 604.9,240.7 605.2,241.3 605.6,240.4 605.9,240.0 606.2,238.9 606.6,241.8 606.9,241.2 607.2,242.0 607.5,244.0 607.8,245.0 608.1,243.8 608.5,245.5 608.8,243.0 609.1,246.7 609.4,245.0 609.7,245.5 610.1,240.1 610.4,242.7 610.8,241.2 611.1,242.0 611.5,239.1 611.8,240.1 612.2,241.9 612.5,240.6 612.8,241.3 613.2,242.7 613.5,241.5 613.9,243.3 614.2,241.6 614.5,243.2 614.9,247.6 615.2,243.2 615.6,246.2 615.9,248.3 616.2,247.5 616.6,247.8 616.9,246.4 617.2,247.5 617.6,247.8 617.9,252.2 618.2,253.5 618.6,247.8 618.9,250.8 619.2,247.9 619.6,251.9 619.9,249.1 620.2,251.7 620.6,254.3 620.9,254.5 621.2,255.5 621.6,254.6 621.9,253.8 622.2,252.2 622.6,253.1 622.9,252.3 623.3,252.9 623.6,248.9 624.0,248.9 624.3,248.9 624.7,249.5 625.0,245.0 625.3,242.6 625.6,243.4 625.9,242.0 626.2,242.8 626.6,243.2 626.9,238.5 627.2,243.7 627.5,241.2 627.8,240.7 628.2,243.3 628.5,242.0 628.9,244.3 629.2,244.6 629.5,243.4 629.9,248.0 630.2,247.5 630.6,247.4 630.9,245.4 631.2,246.9 631.6,247.6 631.9,250.4 632.3,248.0 632.6,247.8 633.0,250.6 633.3,252.8 633.6,250.9 634.0,250.4 634.3,250.9 634.7,253.9 635.0,255.0 635.3,258.2 635.7,255.8 636.0,256.6 636.4,257.1 636.7,259.8 637.0,258.3 637.4,260.8 637.7,259.6 638.1,259.3 638.4,260.4 638.8,262.5 639.1,261.9 639.4,258.5 639.7,259.7 640.0,259.0 640.3,257.3 640.6,256.0 640.9,258.2 641.2,256.2 641.6,256.2 641.9,256.8 642.2,260.2 642.6,260.7 642.9,261.8 643.2,262.3 643.6,264.7 643.9,265.4 644.2,263.8 644.6,266.7 644.9,265.8 645.2,269.0 645.6,268.6 645.9,267.7 646.2,268.8 646.6,269.3 646.9,269.2 647.3,270.2 647.6,272.9 647.9,272.7 648.3,275.7 648.6,275.1 648.9,277.3 649.3,276.4 649.6,275.9 649.9,276.7 650.3,277.7 650.6,277.5 651.0,280.1 651.3,279.8 651.6,282.2 652.0,282.0 652.4,282.4 652.7,286.1 653.0,286.2 653.4,286.3 653.8,288.8 654.1,292.2 654.4,293.2 654.7,297.0 655.1,298.9 655.4,303.0 655.7,302.2 656.0,300.4 656.4,299.6 656.7,298.1 657.0,295.3 657.4,293.8 657.7,293.7 658.0,292.5 658.3,290.9 658.6,289.8 659.0,288.8 659.3,285.8 659.6,287.6 660.0,285.4 660.3,283.9 660.6,284.7 660.9,283.0 661.2,281.2 661.6,283.6 661.9,286.1 662.2,286.7 662.5,288.2 662.8,285.6 663.1,288.1 663.4,289.2 663.8,290.0 664.1,290.8 664.5,290.4 664.8,290.8 665.1,293.3 665.5,293.2 665.9,293.9 666.2,293.4 666.5,295.4 666.9,295.0 667.2,296.4 667.5,296.0 667.8,297.7 668.1,297.3 668.5,298.6 668.8,300.3 669.1,300.7 669.4,301.2 669.7,301.9 670.0,302.8 670.3,302.6 670.6,304.2 671.0,305.7 671.3,306.6 671.6,305.6 671.9,306.9 672.2,305.5 672.5,303.6 672.8,301.1 673.1,298.6 673.5,297.3 673.8,297.9 674.1,295.7 674.4,295.0 674.7,294.5 675.1,295.7 675.4,293.4 675.7,294.2 676.0,294.7 676.4,294.1 676.7,292.2 677.0,293.2 677.3,291.3 677.7,292.4 678.0,291.2 678.3,291.9 678.6,290.5 679.0,291.0 679.3,290.4 679.6,288.7 680.0,288.5 680.3,288.7 680.6,288.4 680.9,287.6 681.2,286.0 681.6,287.0 681.9,285.6 682.2,286.3 682.6,285.7 682.9,285.4 683.2,287.2 683.6,288.2 683.9,287.9 684.3,290.2 684.6,288.5 684.9,289.4 685.3,289.3 685.6,290.6 686.0,291.0 686.3,292.5 686.6,291.8 687.0,293.3 687.4,291.8 687.7,293.7 688.0,293.2 688.4,294.4 688.8,293.8 689.1,292.2 689.4,291.9 689.8,290.2 690.1,290.7 690.5,290.3 690.8,288.1 691.2,288.4 691.5,288.0 691.8,288.9 692.1,291.3 692.5,292.5 692.8,293.0 693.1,294.5 693.4,294.1 693.8,294.8 694.1,295.9 694.4,296.9 694.7,297.4 695.1,297.7 695.4,297.8 695.7,297.4 696.0,300.3 696.4,299.6 696.7,301.8 697.0,300.9 697.3,302.0 697.7,302.5 698.0,302.5 698.3,302.5 698.6,301.4 699.0,302.5 699.3,301.6 699.6,302.4 700.0,301.7 700.3,302.2 700.6,302.5 700.9,302.0 701.2,301.2 701.6,301.8 702.0,303.3 702.3,302.3 702.6,302.4 703.0,302.8 703.4,303.8 703.7,304.2 704.0,305.3 704.4,305.6 704.7,304.1 705.0,300.6 705.3,298.8 705.6,297.9 705.9,297.9 706.2,295.0 706.6,295.2 707.0,297.3 707.3,298.0 707.6,298.7 708.0,298.8 708.3,298.3 708.6,298.3 709.0,297.4 709.3,296.4 709.6,297.5 709.9,297.3 710.2,296.7 710.6,296.4 710.9,297.0 711.2,296.4 711.5,295.9 711.9,293.8 712.2,292.8 712.5,292.5 712.8,292.1 713.2,291.5 713.5,290.9 713.8,290.5 714.2,290.1 714.5,290.5 714.8,291.0 715.2,290.6 715.5,289.5 715.8,289.0 716.2,290.2 716.5,288.1 716.8,288.8 717.2,287.8 717.5,287.5 717.8,287.3 718.2,287.1 718.5,286.4 718.9,286.6 719.2,286.2 719.6,285.3 719.9,285.2 720.3,285.1 720.6,285.0 720.9,283.5 721.3,284.4 721.6,281.8 722.0,283.0 722.3,280.4 722.7,282.0 723.0,281.3 723.4,279.9 723.7,277.3 724.1,277.8 724.4,277.5 724.7,277.9 725.1,279.5 725.4,279.9 725.8,279.2 726.1,281.3 726.5,281.4 726.8,281.1 727.2,280.9 727.5,280.0 727.8,281.1 728.1,281.7 728.4,281.9 728.8,279.6 729.1,280.2 729.4,278.4 729.7,280.0 730.0,278.9 730.3,279.4 730.7,279.2 731.0,277.4 731.3,279.3 731.7,278.5 732.0,278.6 732.3,276.4 732.7,278.0 733.0,279.1 733.3,280.2 733.7,282.0 734.0,279.9 734.3,280.9 734.7,280.6 735.0,282.0 735.3,281.3 735.7,281.5 736.0,279.3 736.4,280.5 736.7,281.2 737.0,278.9 737.4,278.4 737.7,279.0 738.1,277.6 738.4,278.2 738.8,278.2 739.1,278.1 739.4,277.4 739.8,278.0 740.1,275.2 740.5,277.0 740.8,276.3 741.1,274.7 741.5,274.6 741.8,276.8 742.2,274.5 742.5,274.5 742.8,273.6 743.2,275.4 743.5,274.7 743.9,276.9 744.2,273.9 744.5,273.9 744.9,275.6 745.2,277.0 745.5,277.6 745.9,276.9 746.2,278.2 746.6,277.5 746.9,278.2 747.2,277.3 747.6,278.2 747.9,274.9 748.3,275.2 748.6,275.6 749.0,274.7 749.3,273.9 749.7,273.1 750.0,272.0 750.3,270.9 750.7,273.1 751.0,271.6 751.4,272.0 751.7,272.2 752.0,273.8 752.4,270.4 752.7,272.4 753.1,271.0 753.4,269.6 753.8,270.1 754.1,269.6 754.4,270.4 754.7,270.4 755.1,270.5 755.4,269.3 755.7,269.3 756.0,270.9 756.4,270.7 756.7,271.9 757.0,271.3 757.3,270.6 757.7,270.8 758.0,272.6 758.3,272.6 758.6,273.8 759.0,272.5 759.3,272.3 759.6,271.4 760.0,272.8 760.3,270.7 760.6,269.9 760.9,269.3 761.2,268.2 761.6,267.9 761.9,266.8 762.2,267.7 762.6,268.5 762.9,268.5 763.2,267.2 763.6,261.7 763.9,266.1 764.2,263.1 764.6,262.7 764.9,260.4 765.2,262.8 765.6,261.2 765.9,260.6 766.2,260.8 766.6,259.1 766.9,258.9 767.2,260.0 767.6,257.3 767.9,258.2 768.2,257.9 768.6,259.7 768.9,256.9 769.2,256.9 769.6,256.0 769.9,257.1 770.2,255.8 770.6,254.6 770.9,255.8 771.2,256.4 771.6,258.5 771.9,256.8 772.2,257.8 772.6,257.9 772.9,255.9 773.2,257.8 773.6,251.8 773.9,256.5 774.2,255.7 774.6,253.6 774.9,252.0 775.2,252.4 775.6,252.9 775.9,253.1 776.2,253.2 776.6,253.9 776.9,255.3 777.3,253.7 777.6,253.2 778.0,253.7 778.3,250.6 778.6,253.7 779.0,250.7 779.3,250.7 779.7,253.6 780.0,253.9 780.3,253.0 780.6,253.9 781.0,256.7 781.3,259.4 781.6,260.6 781.9,260.8 782.2,261.6 782.5,262.7 782.8,261.7 783.1,261.6 783.5,261.1 783.8,261.0 784.1,263.1 784.4,263.9 784.7,261.7 785.1,263.1 785.4,263.2 785.8,260.5 786.1,262.2 786.5,256.7 786.8,255.0 787.2,254.5 787.5,255.1 787.8,255.4 788.2,254.6 788.5,256.5 788.9,252.6 789.2,258.0 789.5,254.2 789.9,257.0 790.2,258.1 790.6,258.5 790.9,257.3 791.2,258.2 791.6,259.2 791.9,262.1 792.3,261.4 792.6,261.4 792.9,263.1 793.3,260.6 793.6,263.7 793.9,262.6 794.3,262.0 794.6,263.5 794.9,265.9 795.3,266.5 795.6,265.1 795.9,263.4 796.3,263.8 796.6,261.3 797.0,263.2 797.3,261.1 797.6,262.3 798.0,263.2 798.3,259.6 798.6,259.7 799.0,257.2 799.3,256.6 799.7,257.6 800.0,257.6 800.3,257.8 800.7,260.0 801.0,259.0 801.4,257.7 801.7,257.0 802.0,256.6 802.4,257.7 802.7,258.1 803.1,257.4 803.4,256.2 803.8,255.8 804.1,256.1 804.4,255.3 804.8,256.1 805.1,254.1 805.5,255.1 805.8,255.9 806.1,257.6 806.5,256.9 806.8,256.6 807.2,259.9 807.5,260.1 807.8,260.5 808.2,259.8 808.5,260.9 808.9,259.9 809.2,260.9 809.5,261.0 809.9,263.8 810.2,262.2 810.6,265.0 810.9,265.4 811.2,263.9 811.6,263.5 812.0,265.2 812.3,265.2 812.6,266.7 813.0,266.9 813.4,266.4 813.7,267.7 814.0,267.5 814.4,268.2 814.7,267.8 815.1,268.1 815.4,269.0 815.8,268.6 816.1,266.4 816.5,264.0 816.8,266.5 817.2,262.5 817.5,263.2 817.8,264.2 818.2,264.1 818.5,260.6 818.9,263.3 819.2,262.2 819.5,260.2 819.9,262.2 820.2,261.0 820.5,258.9 820.9,260.7 821.2,258.0 821.6,258.7 821.9,258.9 822.2,257.3 822.6,256.9 822.9,258.7 823.3,260.6 823.6,259.9 824.0,260.6 824.3,261.7 824.7,259.8 825.0,261.4 825.3,260.5 825.6,262.9 826.0,258.7 826.3,261.3 826.6,258.0 826.9,257.6 827.2,258.7 827.5,261.1 827.9,261.7 828.2,262.4 828.5,260.4 828.8,262.3 829.1,263.0 829.4,262.9 829.8,264.5 830.1,265.1 830.5,263.0 830.8,259.2 831.2,261.1 831.5,255.9 831.9,257.0 832.2,257.1 832.5,256.4 832.8,253.6 833.1,254.2 833.5,250.4 833.8,251.6 834.1,249.0 834.4,249.5 834.7,250.5 835.1,249.9 835.4,248.9 835.7,249.3 836.0,249.0 836.4,249.6 836.7,248.1 837.0,248.6 837.3,249.7 837.7,250.9 838.0,249.5 838.3,251.4 838.6,249.6 839.0,250.8 839.3,250.7 839.6,247.8 840.0,249.0 840.3,248.9 840.6,244.7 840.9,245.5 841.2,245.8 841.6,245.1 842.0,244.2 842.3,241.9 842.6,245.5 843.0,246.6 843.4,241.5 843.7,243.4 844.0,243.3 844.4,243.9" fill="none" stroke="#0070C0" stroke-width="3.3" stroke-linejoin="round" stroke-linecap="round"/>
<polyline points="70.6,333.8 70.9,333.7 71.3,333.6 71.6,333.5 71.9,333.1 72.3,333.6 72.6,333.1 72.9,333.4 73.3,332.8 73.6,332.9 73.9,332.6 74.3,332.8 74.6,332.3 75.0,332.8 75.3,331.8 75.6,332.4 76.0,332.1 76.3,332.2 76.6,332.0 77.0,332.0 77.3,331.5 77.6,332.2 78.0,331.3 78.3,332.0 78.6,331.2 79.0,331.8 79.3,331.0 79.6,331.3 80.0,330.5 80.3,331.4 80.6,330.2 81.0,331.2 81.3,330.5 81.7,330.8 82.0,330.0 82.3,330.7 82.7,329.9 83.0,330.4 83.3,329.5 83.7,330.3 84.0,329.7 84.3,329.8 84.7,329.5 85.0,329.5 85.3,329.3 85.7,329.6 86.0,329.0 86.3,329.4 86.6,328.9 87.0,329.1 87.3,328.5 87.6,328.8 88.0,328.4 88.3,329.1 88.6,328.2 88.9,328.7 89.3,327.8 89.6,328.3 89.9,327.7 90.3,328.1 90.6,327.5 90.9,328.2 91.2,327.3 91.6,328.1 91.9,327.1 92.2,327.5 92.6,327.1 92.9,327.4 93.2,326.7 93.6,327.5 93.9,325.7 94.2,327.4 94.5,326.5 94.9,326.6 95.2,326.1 95.5,326.7 95.9,325.5 96.2,326.4 96.5,325.6 96.8,326.7 97.2,325.4 97.5,325.8 97.8,325.3 98.2,326.0 98.5,325.2 98.8,326.2 99.1,324.5 99.5,325.5 99.8,324.7 100.1,325.3 100.5,324.5 100.8,325.2 101.1,323.9 101.4,325.2 101.8,324.1 102.1,325.1 102.4,323.5 102.8,324.8 103.1,323.2 103.4,324.9 103.8,323.8 104.1,324.6 104.4,323.6 104.7,324.2 105.1,322.3 105.4,325.0 105.7,322.8 106.1,324.5 106.4,322.3 106.7,324.3 107.0,322.6 107.4,323.8 107.7,322.4 108.0,323.2 108.4,322.2 108.7,323.6 109.0,322.0 109.3,323.3 109.7,322.2 110.0,322.7 110.3,322.4 110.7,322.6 111.0,322.3 111.3,322.9 111.6,321.9 112.0,323.0 112.3,322.2 112.6,322.9 113.0,321.9 113.3,322.7 113.6,321.9 113.9,322.8 114.3,322.0 114.6,322.6 114.9,321.9 115.3,323.0 115.6,321.5 115.9,323.2 116.2,321.7 116.6,322.5 116.9,321.9 117.2,322.4 117.6,321.7 117.9,322.5 118.2,322.0 118.6,322.5 118.9,322.1 119.2,322.3 119.5,322.0 119.9,322.3 120.2,322.0 120.5,322.4 120.9,321.7 121.2,322.2 121.5,321.8 121.8,322.2 122.2,321.9 122.5,322.1 122.8,321.3 123.2,322.2 123.5,321.1 123.9,321.3 124.2,320.7 124.5,320.9 124.9,319.7 125.2,320.6 125.6,319.5 125.9,319.9 126.2,319.4 126.6,319.9 126.9,319.4 127.3,320.1 127.6,319.8 128.0,320.1 128.3,320.0 128.6,320.2 129.0,319.9 129.3,320.9 129.7,320.1 130.0,320.6 130.3,320.0 130.7,320.7 131.0,320.2 131.3,320.9 131.7,319.8 132.0,321.0 132.3,319.8 132.7,320.8 133.0,320.0 133.3,320.3 133.7,320.0 134.0,320.2 134.3,319.9 134.7,320.2 135.0,319.9 135.3,320.3 135.7,319.6 136.0,319.9 136.3,319.0 136.7,319.7 137.0,318.8 137.3,319.2 137.7,318.7 138.0,319.1 138.3,318.2 138.7,319.3 139.0,318.1 139.3,318.6 139.7,318.0 140.0,317.9 140.3,317.6 140.7,317.6 141.0,317.3 141.3,317.5 141.7,316.9 142.0,317.2 142.3,316.7 142.7,316.9 143.0,316.5 143.3,316.6 143.7,315.7 144.0,316.6 144.3,315.6 144.7,316.2 145.0,315.7 145.3,316.2 145.7,315.5 146.0,316.7 146.3,315.8 146.7,316.6 147.0,316.0 147.3,317.0 147.7,315.5 148.0,317.6 148.3,316.1 148.7,318.0 149.0,316.2 149.3,317.5 149.7,317.2 150.0,317.6 150.3,317.1 150.7,316.8 151.0,316.3 151.3,316.1 151.7,314.9 152.0,316.5 152.3,313.8 152.7,315.6 153.0,313.9 153.3,314.5 153.7,312.0 154.0,314.1 154.3,312.5 154.7,312.7 155.0,311.8 155.3,311.9 155.7,311.3 156.0,311.1 156.3,310.8 156.7,311.5 157.0,310.2 157.3,311.9 157.6,310.8 157.9,312.7 158.3,310.7 158.6,311.8 158.9,311.2 159.2,312.4 159.6,310.7 159.9,313.0 160.2,311.4 160.6,312.7 160.9,310.8 161.2,312.9 161.5,311.9 161.8,313.0 162.2,312.2 162.5,312.6 162.8,312.3 163.2,313.0 163.5,312.5 163.9,313.0 164.2,312.6 164.5,313.0 164.9,312.7 165.2,313.5 165.6,312.5 165.9,313.3 166.2,312.5 166.6,313.8 166.9,312.8 167.3,313.7 167.6,312.8 168.0,313.7 168.3,313.1 168.6,313.8 169.0,313.4 169.3,313.7 169.7,313.6 170.0,313.8 170.3,313.3 170.7,313.5 171.0,313.0 171.4,313.3 171.7,312.5 172.0,313.0 172.4,312.3 172.7,312.6 173.1,311.9 173.4,312.0 173.8,311.4 174.1,311.6 174.4,311.1 174.8,311.2 175.1,310.6 175.5,310.8 175.8,310.3 176.1,310.4 176.5,309.9 176.8,310.0 177.2,309.4 177.5,309.7 177.8,309.2 178.2,309.8 178.5,309.1 178.9,309.6 179.2,309.2 179.5,309.5 179.9,308.8 180.2,309.8 180.6,308.7 180.9,309.7 181.2,308.9 181.6,309.2 181.9,308.7 182.3,309.3 182.6,308.6 183.0,309.3 183.3,308.8 183.6,309.2 184.0,308.7 184.3,308.9 184.7,308.7 185.0,308.8 185.3,309.1 185.7,309.5 186.0,309.7 186.3,310.1 186.7,310.0 187.0,311.2 187.3,310.5 187.7,312.2 188.0,311.7 188.3,312.3 188.7,312.2 189.0,312.9 189.3,312.9 189.7,313.5 190.0,313.7 190.3,313.8 190.7,313.0 191.0,313.3 191.3,312.6 191.7,313.2 192.0,312.4 192.3,312.4 192.7,311.9 193.0,312.1 193.3,311.3 193.7,311.6 194.0,310.8 194.3,311.4 194.7,310.7 195.0,311.0 195.3,310.2 195.7,310.4 196.0,309.9 196.3,310.5 196.7,309.6 197.0,311.1 197.3,309.9 197.7,310.5 198.0,310.0 198.3,310.9 198.7,309.8 199.0,311.0 199.3,310.5 199.7,311.4 200.0,310.9 200.3,311.2 200.7,309.7 201.0,310.8 201.3,309.2 201.7,309.7 202.0,308.7 202.3,309.0 202.7,308.2 203.0,308.1 203.3,307.5 203.7,307.4 204.0,306.2 204.3,307.1 204.7,305.6 205.0,306.2 205.3,305.5 205.7,306.2 206.0,304.7 206.4,305.9 206.7,304.5 207.0,305.8 207.4,304.1 207.7,305.5 208.1,304.1 208.4,304.7 208.8,304.1 209.1,304.2 209.4,303.4 209.8,304.1 210.1,303.0 210.5,304.0 210.8,302.9 211.1,303.5 211.5,302.7 211.8,303.2 212.2,302.3 212.5,302.7 212.8,301.9 213.2,303.0 213.5,301.7 213.9,301.8 214.2,301.2 214.5,301.3 214.9,300.8 215.2,301.1 215.6,300.3 215.9,300.4 216.2,299.3 216.6,300.4 216.9,298.7 217.3,300.0 217.6,298.4 218.0,299.2 218.3,298.5 218.6,299.1 219.0,297.4 219.3,298.5 219.7,297.5 220.0,297.6 220.3,297.5 220.7,297.8 221.0,297.6 221.3,298.0 221.7,297.3 222.0,298.5 222.3,297.4 222.7,298.8 223.0,296.9 223.3,299.4 223.7,297.5 224.0,298.9 224.3,298.3 224.7,298.8 225.0,298.7 225.3,298.6 225.7,297.9 226.0,297.8 226.4,297.1 226.7,297.2 227.0,296.2 227.4,296.7 227.7,295.6 228.1,296.4 228.4,294.3 228.8,295.8 229.1,294.1 229.4,295.0 229.8,293.7 230.1,293.7 230.5,293.0 230.8,292.9 231.1,291.9 231.5,292.8 231.8,291.5 232.2,291.5 232.5,290.9 232.8,291.3 233.2,289.9 233.5,290.6 233.8,289.3 234.2,291.0 234.5,289.2 234.8,289.9 235.2,288.8 235.5,289.6 235.8,288.4 236.2,288.6 236.5,288.1 236.8,288.2 237.2,287.6 237.5,287.5 237.8,287.8 238.2,288.6 238.5,288.3 238.8,289.0 239.2,288.7 239.5,289.7 239.8,289.7 240.2,290.7 240.5,290.4 240.8,290.9 241.2,291.1 241.5,291.5 241.8,291.4 242.2,292.4 242.5,292.4 242.8,293.0 243.1,293.3 243.5,294.0 243.8,294.1 244.1,294.8 244.4,294.8 244.8,295.8 245.1,296.0 245.4,296.7 245.7,296.6 246.0,298.1 246.4,297.6 246.7,298.7 247.0,298.7 247.3,298.1 247.7,297.0 248.0,296.5 248.4,295.0 248.7,295.9 249.1,292.8 249.4,294.5 249.8,292.3 250.1,291.8 250.4,290.6 250.8,290.1 251.1,288.6 251.5,288.6 251.8,287.4 252.2,286.9 252.5,285.9 252.8,285.8 253.2,284.9 253.5,285.2 253.9,284.0 254.2,284.6 254.5,283.1 254.9,283.5 255.2,282.4 255.6,283.5 255.9,280.8 256.2,283.2 256.6,280.6 256.9,281.8 257.3,279.2 257.6,280.6 258.0,279.0 258.3,280.3 258.6,278.3 259.0,279.9 259.3,278.2 259.7,278.0 260.0,277.5 260.3,277.3 260.7,276.3 261.0,277.2 261.4,274.6 261.7,276.3 262.0,274.5 262.4,274.9 262.7,273.4 263.1,273.7 263.4,272.4 263.8,273.0 264.1,271.4 264.4,272.1 264.8,270.3 265.1,271.3 265.5,268.1 265.8,271.3 266.1,268.7 266.5,270.3 266.8,267.4 267.2,268.3 267.5,267.4 267.9,267.4 268.2,266.3 268.6,266.2 268.9,264.2 269.2,266.6 269.6,263.7 269.9,264.9 270.3,262.6 270.6,263.5 271.0,262.4 271.3,263.9 271.7,263.8 272.0,265.0 272.3,265.2 272.7,266.5 273.0,264.7 273.3,270.0 273.7,267.3 274.0,270.1 274.3,269.3 274.7,271.1 275.0,270.9 275.3,271.4 275.7,268.6 276.0,270.3 276.3,267.5 276.7,271.1 277.0,266.9 277.3,270.0 277.7,266.3 278.0,269.6 278.3,265.8 278.7,267.5 279.0,265.1 279.3,266.7 279.7,264.0 280.0,265.2 280.3,263.3 280.7,265.2 281.0,263.2 281.3,264.8 281.7,262.9 282.0,263.5 282.3,262.1 282.7,262.6 283.0,261.5 283.3,262.3 283.7,260.8 284.0,261.8 284.3,260.1 284.7,260.8 285.0,259.9 285.3,261.8 285.7,262.6 286.0,265.1 286.4,264.7 286.7,269.7 287.0,269.2 287.4,272.6 287.7,272.4 288.1,274.6 288.4,275.8 288.8,277.5 289.1,276.0 289.4,276.1 289.8,273.7 290.1,274.2 290.5,272.0 290.8,272.3 291.1,269.1 291.5,270.4 291.8,267.5 292.2,267.3 292.5,265.9 292.8,266.3 293.2,265.0 293.5,264.9 293.8,264.3 294.2,264.2 294.5,263.5 294.8,263.4 295.2,262.7 295.5,262.5 295.8,261.7 296.2,261.7 296.5,261.0 296.8,261.0 297.2,260.1 297.5,260.1 297.8,260.3 298.2,261.0 298.5,260.6 298.8,262.6 299.1,261.0 299.5,263.9 299.8,261.3 300.1,264.4 300.5,262.4 300.8,264.4 301.1,263.6 301.4,265.7 301.8,264.5 302.1,265.9 302.4,265.3 302.8,266.7 303.1,266.3 303.4,267.2 303.8,267.5 304.1,266.9 304.4,265.8 304.7,265.6 305.1,264.2 305.4,263.9 305.7,262.2 306.1,262.6 306.4,260.6 306.7,262.5 307.0,257.7 307.4,260.2 307.7,257.2 308.0,257.8 308.4,256.1 308.7,257.3 309.0,253.7 309.3,255.3 309.7,252.4 310.0,252.8 310.3,251.8 310.7,251.7 311.0,250.7 311.3,250.9 311.7,248.2 312.0,250.6 312.3,246.5 312.7,250.2 313.0,246.3 313.3,249.8 313.7,246.5 314.0,247.9 314.3,245.0 314.7,246.4 315.0,244.1 315.3,245.6 315.7,243.4 316.0,244.0 316.3,242.7 316.7,242.9 317.0,240.8 317.3,241.2 317.7,239.6 318.0,240.0 318.3,237.0 318.7,241.4 319.0,235.2 319.3,240.2 319.7,232.6 320.0,236.9 320.3,233.1 320.7,235.3 321.0,232.4 321.3,232.8 321.7,231.7 322.0,232.2 322.3,229.0 322.7,233.0 323.0,228.9 323.3,234.4 323.7,229.1 324.0,233.3 324.3,226.4 324.7,232.4 325.0,227.7 325.3,230.9 325.7,226.3 326.0,229.1 326.3,228.9 326.6,230.1 327.0,228.9 327.3,230.3 327.6,228.9 327.9,233.5 328.3,230.1 328.6,234.1 328.9,228.9 329.2,234.9 329.6,230.9 329.9,234.9 330.2,230.7 330.6,236.4 330.9,230.8 331.2,236.8 331.5,232.7 331.9,236.7 332.2,232.9 332.5,235.3 332.8,234.0 333.2,237.4 333.5,234.3 333.8,238.0 334.2,234.6 334.5,237.8 334.8,235.5 335.2,238.1 335.5,236.4 335.8,239.2 336.2,236.5 336.5,239.0 336.8,237.7 337.2,239.6 337.5,238.4 337.9,238.1 338.2,234.9 338.6,235.0 338.9,232.3 339.2,231.5 339.6,228.7 339.9,230.7 340.3,224.9 340.6,226.1 341.0,223.7 341.4,223.5 341.7,221.0 342.1,223.3 342.4,218.5 342.8,220.8 343.1,218.5 343.4,220.1 343.8,216.8 344.1,217.5 344.5,215.8 344.8,218.3 345.2,219.2 345.5,222.0 345.8,222.9 346.2,225.4 346.5,225.2 346.8,230.7 347.2,228.6 347.5,232.6 347.9,232.8 348.2,235.6 348.6,234.8 348.9,237.2 349.2,236.9 349.6,238.9 349.9,238.7 350.3,241.2 350.6,240.7 351.0,242.8 351.3,244.1 351.7,249.4 352.0,249.7 352.4,255.2 352.7,253.5 353.1,259.6 353.4,260.9 353.8,263.9 354.1,262.4 354.4,261.6 354.8,260.1 355.1,259.4 355.5,257.6 355.8,257.1 356.1,255.2 356.5,254.8 356.8,253.0 357.2,252.4 357.5,250.7 357.8,253.2 358.1,252.8 358.5,256.2 358.8,255.2 359.1,256.5 359.4,257.3 359.8,258.6 360.1,258.9 360.4,261.7 360.7,261.4 361.0,263.4 361.4,263.1 361.7,265.2 362.0,265.9 362.3,264.8 362.7,260.3 363.0,259.8 363.3,255.0 363.7,255.4 364.0,250.2 364.3,251.7 364.7,246.3 365.0,245.4 365.3,241.4 365.7,245.1 366.0,239.2 366.4,241.4 366.7,234.9 367.0,239.4 367.4,233.0 367.7,234.9 368.1,232.2 368.4,232.5 368.8,229.8 369.1,230.5 369.4,228.3 369.8,228.8 370.1,226.6 370.4,227.0 370.8,224.9 371.1,228.2 371.4,220.4 371.8,227.6 372.1,219.9 372.4,223.7 372.8,220.0 373.1,222.5 373.4,219.4 373.8,220.4 374.1,218.7 374.4,224.3 374.7,221.5 375.0,225.3 375.3,222.9 375.6,227.9 375.9,225.6 376.2,229.2 376.6,224.1 376.9,225.9 377.3,219.3 377.6,221.8 378.0,213.4 378.3,214.5 378.6,208.0 379.0,210.6 379.3,202.8 379.7,205.9 380.0,200.5 380.3,205.3 380.7,199.0 381.0,206.8 381.4,203.9 381.7,208.0 382.0,205.3 382.4,208.6 382.7,206.8 383.1,210.4 383.4,208.7 383.8,211.1 384.1,207.4 384.4,210.2 384.7,205.5 385.0,206.5 385.4,195.9 385.7,204.3 386.0,199.0 386.3,203.4 386.7,201.2 387.0,203.3 387.3,202.9 387.7,205.6 388.0,202.1 388.3,213.0 388.7,203.0 389.0,210.9 389.3,209.8 389.7,211.3 390.0,212.0 390.3,211.0 390.7,209.2 391.0,209.8 391.3,205.5 391.7,207.5 392.0,202.8 392.3,207.0 392.7,199.8 393.0,206.9 393.3,199.9 393.7,199.8 394.0,197.7 394.3,197.7 394.7,194.2 395.0,195.6 395.3,192.8 395.6,198.0 395.9,195.6 396.2,198.7 396.6,198.1 396.9,199.9 397.2,197.4 397.5,201.2 397.8,196.1 398.1,198.5 398.4,193.3 398.8,194.9 399.1,190.0 399.4,191.6 399.7,186.3 400.0,186.3 400.3,182.9 400.7,187.3 401.0,184.7 401.3,186.4 401.7,184.9 402.0,185.8 402.3,182.4 402.7,187.4 403.0,183.6 403.3,186.0 403.7,182.3 404.0,187.0 404.3,182.5 404.7,184.8 405.0,183.6 405.3,184.6 405.7,182.0 406.0,184.2 406.4,180.0 406.7,185.8 407.0,181.5 407.4,185.3 407.7,182.6 408.1,183.4 408.4,182.1 408.8,182.6 409.1,183.0 409.4,188.4 409.7,185.6 410.0,191.7 410.3,189.4 410.6,193.0 411.0,190.7 411.3,193.6 411.7,186.9 412.0,193.3 412.4,188.2 412.7,190.5 413.1,187.0 413.4,189.0 413.8,187.1 414.1,187.9 414.4,184.1 414.8,186.4 415.1,179.1 415.5,183.2 415.8,179.4 416.1,180.3 416.5,177.7 416.8,178.2 417.2,175.5 417.5,175.4 417.8,173.1 418.2,174.6 418.5,169.0 418.9,174.6 419.2,168.9 419.5,173.4 419.9,166.2 420.2,171.4 420.6,167.2 420.9,167.9 421.2,165.6 421.6,170.8 421.9,168.0 422.2,176.7 422.5,170.6 422.8,177.2 423.1,175.2 423.4,180.1 423.8,179.7 424.1,182.3 424.4,182.5 424.7,186.7 425.0,181.0 425.3,193.8 425.6,187.1 425.9,194.1 426.2,193.0 426.6,195.4 426.9,186.9 427.3,195.5 427.6,186.6 428.0,190.4 428.3,181.3 428.6,185.9 429.0,180.2 429.3,183.9 429.7,179.6 430.0,179.2 430.3,179.0 430.7,181.0 431.0,179.8 431.3,183.6 431.7,181.2 432.0,184.5 432.3,182.8 432.7,186.9 433.0,186.1 433.3,187.8 433.6,186.5 434.0,190.8 434.3,186.6 434.6,194.1 434.9,190.0 435.3,199.7 435.6,190.0 435.9,197.0 436.2,195.7 436.6,200.7 436.9,195.5 437.3,201.0 437.6,194.1 438.0,201.1 438.3,196.2 438.7,204.1 439.0,199.3 439.4,203.3 439.7,199.7 440.0,202.9 440.3,197.2 440.6,199.6 441.0,194.8 441.3,198.6 441.6,191.8 441.9,195.4 442.2,192.0 442.5,193.1 442.8,188.4 443.1,192.0 443.5,182.4 443.8,187.4 444.1,182.2 444.4,183.3 444.7,178.1 445.1,182.0 445.4,175.3 445.8,177.5 446.1,167.7 446.5,179.0 446.8,169.4 447.2,173.9 447.5,168.4 447.8,170.5 448.2,163.8 448.5,170.3 448.9,166.6 449.2,168.8 449.5,166.1 449.9,169.5 450.2,162.3 450.6,170.3 450.9,164.9 451.2,167.0 451.6,165.2 451.9,165.3 452.3,163.3 452.6,164.3 453.0,159.0 453.3,163.4 453.6,158.5 454.0,161.1 454.3,157.1 454.7,159.5 455.0,157.3 455.3,158.4 455.6,152.0 455.9,160.4 456.2,154.2 456.6,157.4 456.9,154.9 457.2,155.9 457.5,154.9 457.8,156.8 458.1,156.7 458.4,159.0 458.8,159.7 459.1,162.0 459.4,162.5 459.7,164.5 460.1,165.7 460.4,168.2 460.8,168.5 461.1,172.0 461.5,171.9 461.8,176.4 462.2,174.3 462.5,179.0 462.8,175.4 463.1,178.8 463.4,171.1 463.8,172.2 464.1,167.7 464.4,169.6 464.7,164.5 465.0,163.8 465.3,164.9 465.7,168.2 466.0,169.5 466.4,172.5 466.7,173.0 467.0,177.4 467.4,174.1 467.7,181.7 468.1,178.8 468.4,185.7 468.8,185.8 469.1,185.8 469.4,181.9 469.8,183.6 470.1,178.5 470.5,180.5 470.8,175.6 471.2,176.0 471.5,171.6 471.9,173.2 472.2,169.0 472.5,171.6 472.8,163.9 473.1,164.0 473.5,159.8 473.8,159.6 474.1,155.1 474.4,154.1 474.8,147.7 475.1,146.5 475.5,140.7 475.8,142.6 476.2,141.1 476.5,145.7 476.8,143.4 477.2,148.1 477.5,145.8 477.8,152.4 478.1,151.4 478.4,154.9 478.8,157.4 479.1,172.1 479.4,186.0 479.7,183.7 480.0,177.9 480.3,174.9 480.6,169.1 480.9,168.1 481.2,162.1 481.6,164.9 481.9,163.9 482.3,166.6 482.6,166.3 483.0,170.8 483.3,166.0 483.6,172.9 484.0,166.0 484.3,174.9 484.7,171.7 485.0,175.1 485.3,174.6 485.7,177.8 486.0,173.8 486.3,182.3 486.7,175.8 487.0,183.5 487.3,178.3 487.7,183.7 488.0,182.0 488.3,181.2 488.7,174.5 489.0,179.5 489.3,164.6 489.7,173.8 490.0,165.9 490.3,168.0 490.7,160.9 491.0,169.9 491.3,161.7 491.7,165.0 492.0,160.1 492.3,162.4 492.7,160.2 493.0,160.1 493.3,159.7 493.6,161.6 494.0,160.1 494.3,162.6 494.6,161.5 494.9,162.7 495.3,160.7 495.6,165.5 495.9,160.4 496.2,165.0 496.6,162.4 496.9,163.1 497.2,160.5 497.5,161.3 497.8,155.0 498.1,162.4 498.4,156.4 498.8,158.2 499.1,157.5 499.4,165.3 499.8,158.1 500.1,166.1 500.5,164.2 500.8,169.6 501.2,166.2 501.5,171.0 501.9,170.2 502.2,172.8 502.5,166.8 502.8,172.2 503.1,163.8 503.5,164.9 503.8,160.9 504.1,163.0 504.4,159.7 504.7,159.6 505.1,157.8 505.4,158.8 505.8,155.4 506.1,157.1 506.5,153.1 506.8,155.9 507.2,151.4 507.5,152.9 507.8,147.0 508.1,154.7 508.4,149.6 508.8,150.4 509.1,148.4 509.4,148.6 509.7,149.1 510.1,153.0 510.4,152.6 510.8,155.3 511.1,155.0 511.5,161.4 511.8,157.6 512.2,161.6 512.5,162.4 512.8,163.8 513.1,163.0 513.4,166.4 513.8,163.7 514.1,169.1 514.4,165.7 514.7,169.0 515.0,168.1 515.3,174.1 515.6,171.2 515.9,180.7 516.2,181.5 516.6,185.6 516.9,187.7 517.2,192.0 517.5,195.0 517.8,193.8 518.1,191.1 518.4,190.6 518.8,187.5 519.1,187.1 519.4,183.2 519.7,183.9 520.0,180.6 520.4,183.0 520.7,179.9 521.0,184.7 521.4,177.6 521.8,183.6 522.1,176.6 522.5,182.5 522.8,179.8 523.1,180.3 523.5,180.0 523.8,182.1 524.2,181.1 524.5,188.8 524.9,182.2 525.2,191.4 525.6,188.0 525.9,192.6 526.2,193.4 526.6,195.4 526.9,194.3 527.2,197.0 527.5,195.8 527.8,199.8 528.1,195.8 528.4,202.5 528.8,200.9 529.1,200.0 529.4,193.0 529.7,196.6 530.0,190.1 530.3,193.6 530.6,187.4 530.9,192.3 531.2,194.3 531.5,201.7 531.9,203.0 532.2,209.2 532.5,212.3 532.8,211.8 533.2,209.3 533.5,210.3 533.9,205.2 534.2,210.9 534.6,202.5 534.9,207.8 535.3,201.5 535.6,203.1 536.0,198.1 536.3,202.2 536.6,197.1 537.0,202.0 537.4,195.5 537.7,200.0 538.0,193.3 538.4,197.3 538.8,193.5 539.1,195.4 539.4,186.7 539.7,194.3 540.0,190.8 540.3,193.7 540.6,189.3 540.9,192.5 541.2,189.0 541.6,195.0 542.0,189.4 542.3,203.8 542.6,197.4 543.0,201.8 543.3,201.4 543.6,205.3 544.0,205.1 544.3,209.1 544.6,206.1 545.0,214.6 545.3,211.1 545.6,215.2 545.9,215.4 546.3,217.7 546.6,216.5 547.0,221.6 547.3,216.7 547.7,222.6 548.0,221.7 548.3,227.0 548.7,224.2 549.0,232.7 549.3,228.2 549.7,233.9 550.0,232.7 550.3,238.4 550.7,237.3 551.0,240.2 551.4,239.9 551.7,242.8 552.0,241.8 552.4,244.5 552.8,244.1 553.1,246.2 553.5,245.3 553.8,248.0 554.1,247.5 554.5,248.9 554.8,246.7 555.2,245.1 555.5,242.9 555.9,241.9 556.2,235.2 556.6,239.5 556.9,231.8 557.2,237.7 557.6,231.4 557.9,231.8 558.3,226.3 558.6,227.1 559.0,223.6 559.3,222.8 559.7,220.5 560.0,218.9 560.3,217.5 560.7,218.0 561.0,215.0 561.4,216.5 561.7,213.1 562.0,214.3 562.4,212.1 562.7,213.1 563.0,210.0 563.4,210.8 563.7,208.4 564.1,209.3 564.4,207.3 564.7,209.0 565.1,208.5 565.4,211.0 565.8,209.8 566.1,213.0 566.5,212.5 566.8,214.9 567.2,214.9 567.5,216.3 567.8,216.4 568.2,218.3 568.5,218.6 568.9,220.9 569.2,219.4 569.5,222.7 569.9,221.0 570.2,224.8 570.6,223.2 570.9,226.3 571.2,226.2 571.6,227.0 571.9,226.6 572.3,228.3 572.6,227.0 572.9,230.4 573.3,226.4 573.6,230.8 573.9,228.2 574.3,230.6 574.6,229.3 574.9,231.2 575.3,229.0 575.6,231.7 575.9,229.6 576.3,231.6 576.6,230.3 577.0,231.8 577.3,230.4 577.7,231.6 578.0,230.0 578.4,231.1 578.7,229.7 579.1,230.9 579.4,229.9 579.7,231.2 580.1,230.9 580.4,232.8 580.7,232.4 581.1,233.6 581.4,233.8 581.7,235.1 582.1,233.7 582.4,238.4 582.7,235.6 583.1,237.9 583.4,237.4 583.8,238.9 584.1,238.4 584.5,242.9 584.8,240.6 585.1,243.3 585.5,243.2 585.9,245.4 586.2,245.1 586.5,246.7 586.9,247.4 587.2,249.2 587.5,250.1 587.8,252.0 588.1,253.0 588.5,254.9 588.8,255.0 589.1,258.1 589.4,258.8 589.7,263.6 590.1,265.8 590.4,270.9 590.8,273.9 591.1,272.2 591.5,267.8 591.8,268.0 592.1,263.0 592.5,262.1 592.8,260.7 593.1,260.1 593.5,257.7 593.8,257.8 594.1,255.5 594.4,255.1 594.7,254.3 595.1,255.3 595.4,252.9 595.7,255.6 596.1,253.1 596.4,254.6 596.7,253.3 597.1,254.0 597.4,252.7 597.7,253.3 598.1,251.8 598.4,253.6 598.8,252.1 599.1,253.1 599.5,248.9 599.8,251.0 600.1,248.1 600.5,249.1 600.9,246.4 601.2,247.0 601.5,245.2 601.9,245.1 602.2,244.4 602.6,245.9 602.9,243.0 603.2,246.1 603.6,243.3 603.9,244.5 604.2,242.6 604.6,244.4 604.9,239.8 605.2,244.7 605.6,239.9 605.9,243.2 606.2,241.0 606.6,242.7 606.9,241.0 607.2,243.6 607.5,239.9 607.8,243.6 608.1,239.9 608.5,246.2 608.8,243.0 609.1,245.4 609.4,244.9 609.7,245.0 610.1,243.8 610.4,243.9 610.8,242.7 611.1,242.8 611.5,240.5 611.8,243.6 612.2,240.2 612.5,241.0 612.8,241.1 613.2,242.4 613.5,242.0 613.9,243.6 614.2,241.8 614.5,245.3 614.9,244.4 615.2,247.2 615.6,246.0 615.9,247.6 616.2,247.4 616.6,248.4 616.9,247.9 617.2,249.6 617.6,248.5 617.9,249.9 618.2,246.8 618.6,253.4 618.9,247.0 619.2,251.9 619.6,250.9 619.9,252.2 620.2,251.3 620.6,252.5 620.9,252.2 621.2,253.9 621.6,252.4 621.9,253.9 622.2,252.5 622.6,252.6 622.9,250.1 623.3,250.1 623.6,248.6 624.0,248.5 624.3,246.7 624.7,246.3 625.0,244.9 625.3,245.0 625.6,243.9 625.9,244.2 626.2,242.6 626.6,243.1 626.9,241.7 627.2,242.0 627.5,241.1 627.8,243.0 628.2,241.4 628.5,243.5 628.9,241.2 629.2,245.4 629.5,243.5 629.9,245.6 630.2,244.9 630.6,246.2 630.9,246.2 631.2,247.0 631.6,247.3 631.9,248.7 632.3,248.2 632.6,250.3 633.0,250.1 633.3,252.2 633.6,251.3 634.0,254.2 634.3,253.1 634.7,254.4 635.0,255.0 635.3,255.9 635.7,255.2 636.0,257.7 636.4,255.8 636.7,259.2 637.0,257.6 637.4,261.5 637.7,258.8 638.1,262.2 638.4,261.0 638.8,262.7 639.1,261.2 639.4,262.1 639.7,259.2 640.0,260.1 640.3,257.6 640.6,258.5 640.9,256.7 641.2,256.3 641.6,256.9 641.9,258.4 642.2,258.3 642.6,261.1 642.9,260.0 643.2,261.9 643.6,261.8 643.9,263.0 644.2,263.7 644.6,264.7 644.9,264.8 645.2,266.5 645.6,266.5 645.9,268.6 646.2,268.5 646.6,270.5 646.9,269.2 647.3,271.4 647.6,270.7 647.9,272.8 648.3,272.2 648.6,274.2 648.9,273.6 649.3,275.5 649.6,275.2 649.9,276.8 650.3,276.3 650.6,277.7 651.0,278.1 651.3,280.5 651.6,281.1 652.0,282.6 652.4,283.5 652.7,285.1 653.0,284.8 653.4,288.1 653.8,288.6 654.1,293.1 654.4,294.3 654.7,297.5 655.1,299.8 655.4,303.1 655.7,300.7 656.0,301.0 656.4,297.5 656.7,298.6 657.0,296.1 657.4,295.8 657.7,293.5 658.0,292.6 658.3,291.0 658.6,290.8 659.0,288.7 659.3,288.6 659.6,286.0 660.0,287.3 660.3,283.7 660.6,284.0 660.9,282.2 661.2,281.3 661.6,282.2 661.9,283.7 662.2,283.6 662.5,286.1 662.8,285.8 663.1,288.6 663.4,288.6 663.8,290.0 664.1,290.2 664.5,291.3 664.8,291.1 665.1,293.8 665.5,291.6 665.9,294.5 666.2,293.0 666.5,295.4 666.9,294.7 667.2,297.0 667.5,295.1 667.8,298.9 668.1,297.2 668.5,299.4 668.8,299.6 669.1,300.7 669.4,301.2 669.7,302.1 670.0,302.5 670.3,303.5 670.6,304.0 671.0,305.0 671.3,305.3 671.6,306.4 671.9,306.9 672.2,305.5 672.5,302.8 672.8,303.4 673.1,299.6 673.5,300.8 673.8,297.8 674.1,296.6 674.4,295.0 674.7,294.8 675.1,293.3 675.4,294.7 675.7,292.5 676.0,294.0 676.4,292.8 676.7,292.7 677.0,292.2 677.3,292.0 677.7,291.3 678.0,291.3 678.3,290.6 678.6,290.7 679.0,289.2 679.3,290.0 679.6,288.0 680.0,289.1 680.3,287.5 680.6,288.0 680.9,286.5 681.2,286.8 681.6,285.3 681.9,285.8 682.2,284.9 682.6,287.8 682.9,286.7 683.2,287.5 683.6,287.7 683.9,288.4 684.3,288.6 684.6,289.6 684.9,289.3 685.3,290.4 685.6,290.5 686.0,291.5 686.3,290.7 686.6,291.9 687.0,291.6 687.4,293.4 687.7,292.3 688.0,293.6 688.4,293.0 688.8,293.8 689.1,292.4 689.4,293.0 689.8,291.4 690.1,291.1 690.5,290.0 690.8,289.5 691.2,288.4 691.5,288.1 691.8,288.6 692.1,290.2 692.5,290.3 692.8,292.6 693.1,292.3 693.4,294.2 693.8,294.7 694.1,296.2 694.4,296.8 694.7,297.6 695.1,297.7 695.4,298.7 695.7,298.6 696.0,299.7 696.4,299.6 696.7,300.7 697.0,300.7 697.3,301.6 697.7,301.4 698.0,302.6 698.3,301.9 698.6,302.8 699.0,301.8 699.3,302.3 699.6,301.5 700.0,302.0 700.3,301.1 700.6,302.2 700.9,300.9 701.2,301.4 701.6,301.4 702.0,302.4 702.3,302.4 702.6,303.5 703.0,302.8 703.4,304.6 703.7,304.3 704.0,305.6 704.4,305.6 704.7,304.0 705.0,301.7 705.3,300.7 705.6,298.5 705.9,296.9 706.2,295.0 706.6,296.0 707.0,296.2 707.3,297.5 707.6,297.8 708.0,298.8 708.3,298.2 708.6,298.1 709.0,297.3 709.3,297.1 709.6,296.0 709.9,297.1 710.2,295.3 710.6,295.6 710.9,294.2 711.2,295.2 711.5,293.0 711.9,294.0 712.2,292.9 712.5,292.5 712.8,292.1 713.2,291.9 713.5,291.3 713.8,291.7 714.2,290.6 714.5,291.0 714.8,289.9 715.2,290.1 715.5,289.3 715.8,289.3 716.2,288.2 716.5,289.3 716.8,287.6 717.2,288.5 717.5,287.5 717.8,287.6 718.2,286.5 718.5,287.2 718.9,285.5 719.2,288.0 719.6,284.6 719.9,285.9 720.3,284.3 720.6,285.1 720.9,283.5 721.3,284.4 721.6,282.6 722.0,282.8 722.3,281.0 722.7,281.6 723.0,279.8 723.4,280.6 723.7,278.2 724.1,278.9 724.4,277.3 724.7,278.7 725.1,276.9 725.4,280.0 725.8,277.7 726.1,280.1 726.5,277.5 726.8,280.2 727.2,279.7 727.5,280.0 727.8,279.7 728.1,279.9 728.4,279.3 728.8,279.8 729.1,278.9 729.4,279.5 729.7,277.3 730.0,279.1 730.3,278.4 730.7,279.7 731.0,277.4 731.3,280.9 731.7,277.6 732.0,282.3 732.3,278.7 732.7,282.1 733.0,279.5 733.3,281.7 733.7,280.7 734.0,282.0 734.3,281.3 734.7,282.4 735.0,282.0 735.3,282.0 735.7,280.5 736.0,281.6 736.4,280.4 736.7,280.5 737.0,279.7 737.4,280.4 737.7,278.4 738.1,279.2 738.4,278.1 738.8,278.3 739.1,277.3 739.4,278.1 739.8,275.7 740.1,277.3 740.5,276.3 740.8,276.5 741.1,275.7 741.5,275.7 741.8,275.0 742.2,275.1 742.5,274.5 742.8,274.8 743.2,274.7 743.5,275.6 743.9,275.2 744.2,276.6 744.5,275.3 744.9,276.7 745.2,276.5 745.5,277.3 745.9,276.8 746.2,278.2 746.6,277.6 746.9,278.4 747.2,277.5 747.6,276.9 747.9,276.0 748.3,275.6 748.6,274.6 749.0,274.3 749.3,273.0 749.7,273.2 750.0,271.9 750.3,272.2 750.7,270.8 751.0,272.3 751.4,270.0 751.7,272.5 752.0,270.4 752.4,271.9 752.7,269.6 753.1,271.2 753.4,269.6 753.8,270.2 754.1,269.6 754.4,271.4 754.7,270.1 755.1,272.1 755.4,270.3 755.7,272.0 756.0,270.9 756.4,272.3 756.7,270.8 757.0,272.2 757.3,271.9 757.7,273.1 758.0,272.3 758.3,273.0 758.6,270.2 759.0,272.7 759.3,270.5 759.6,270.9 760.0,269.5 760.3,269.9 760.6,267.6 760.9,269.0 761.2,268.1 761.6,269.0 761.9,266.4 762.2,267.3 762.6,264.4 762.9,267.1 763.2,263.0 763.6,265.5 763.9,262.5 764.2,265.4 764.6,263.0 764.9,262.9 765.2,262.1 765.6,261.9 765.9,259.9 766.2,260.9 766.6,259.2 766.9,261.4 767.2,259.5 767.6,260.3 767.9,257.7 768.2,260.7 768.6,257.3 768.9,259.2 769.2,256.5 769.6,259.4 769.9,255.8 770.2,258.2 770.6,255.1 770.9,258.4 771.2,256.1 771.6,257.6 771.9,254.5 772.2,256.5 772.6,255.4 772.9,255.6 773.2,255.0 773.6,255.2 773.9,253.6 774.2,255.3 774.6,253.6 774.9,255.1 775.2,252.8 775.6,254.6 775.9,253.1 776.2,253.3 776.6,252.2 776.9,255.6 777.3,252.8 777.6,256.1 778.0,251.1 778.3,254.3 778.6,252.9 779.0,255.9 779.3,252.7 779.7,255.4 780.0,253.5 780.3,256.5 780.6,255.5 781.0,258.1 781.3,255.9 781.6,261.0 781.9,260.7 782.2,261.2 782.5,261.2 782.8,262.1 783.1,261.5 783.5,264.2 783.8,262.5 784.1,264.0 784.4,263.7 784.7,264.2 785.1,260.8 785.4,261.4 785.8,259.2 786.1,260.7 786.5,256.6 786.8,259.4 787.2,255.4 787.5,255.2 787.8,254.9 788.2,257.0 788.5,255.9 788.9,256.5 789.2,256.3 789.5,257.0 789.9,256.6 790.2,257.6 790.6,257.4 790.9,258.1 791.2,257.9 791.6,260.3 791.9,258.2 792.3,261.0 792.6,259.8 792.9,262.4 793.3,260.8 793.6,263.3 793.9,261.8 794.3,264.6 794.6,262.3 794.9,264.6 795.3,264.3 795.6,265.2 795.9,264.1 796.3,264.5 796.6,262.9 797.0,263.6 797.3,261.5 797.6,262.2 798.0,258.9 798.3,261.1 798.6,258.9 799.0,259.8 799.3,258.6 799.7,258.7 800.0,257.5 800.3,257.6 800.7,256.7 801.0,257.4 801.4,256.7 801.7,257.1 802.0,256.0 802.4,257.0 802.7,255.6 803.1,257.0 803.4,255.8 803.8,255.8 804.1,255.8 804.4,256.9 804.8,256.4 805.1,257.5 805.5,257.2 805.8,258.4 806.1,258.4 806.5,259.4 806.8,259.1 807.2,260.1 807.5,260.0 807.8,261.5 808.2,260.2 808.5,262.2 808.9,260.0 809.2,263.4 809.5,260.6 809.9,262.9 810.2,262.4 810.6,264.0 810.9,262.7 811.2,264.1 811.6,263.4 812.0,265.5 812.3,265.0 812.6,267.1 813.0,265.3 813.4,267.4 813.7,266.9 814.0,268.3 814.4,268.1 814.7,267.9 815.1,266.7 815.4,266.9 815.8,265.1 816.1,266.2 816.5,264.4 816.8,266.1 817.2,263.0 817.5,263.3 817.8,262.4 818.2,263.7 818.5,262.1 818.9,262.0 819.2,261.3 819.5,261.4 819.9,260.0 820.2,261.2 820.5,259.9 820.9,260.6 821.2,258.0 821.6,260.7 821.9,258.7 822.2,260.4 822.6,258.4 822.9,260.2 823.3,258.6 823.6,261.6 824.0,260.0 824.3,261.4 824.7,260.7 825.0,261.5 825.3,260.3 825.6,260.6 826.0,258.9 826.3,259.4 826.6,257.9 826.9,257.7 827.2,258.1 827.5,259.5 827.9,259.2 828.2,261.9 828.5,259.8 828.8,264.0 829.1,261.6 829.4,264.3 829.8,264.3 830.1,264.4 830.5,259.9 830.8,263.7 831.2,256.6 831.5,259.5 831.9,256.6 832.2,257.2 832.5,253.6 832.8,256.0 833.1,251.8 833.5,254.5 833.8,249.8 834.1,251.8 834.4,249.1 834.7,250.2 835.1,248.7 835.4,251.7 835.7,248.7 836.0,252.3 836.4,246.9 836.7,251.4 837.0,248.9 837.3,250.8 837.7,249.3 838.0,249.7 838.3,249.0 838.6,248.8 839.0,248.1 839.3,248.3 839.6,246.0 840.0,247.7 840.3,245.0 840.6,247.2 840.9,245.2 841.2,246.0 841.6,243.9 842.0,246.7 842.3,244.7 842.6,245.4 843.0,244.1 843.4,245.5 843.7,241.6 844.0,246.5 844.4,243.9" fill="none" stroke="#0070C0" stroke-width="1.7" stroke-linejoin="round" stroke-linecap="round"/>
<polyline points="69,334.4 844.5,334.4" fill="none" stroke="#FFC000" stroke-width="3.1"/>
<text transform="translate(154.0,374.1) rotate(-70)" text-anchor="end" class="xl">1996<tspan class="xk">年</tspan></text>
<text transform="translate(231.3,374.1) rotate(-70)" text-anchor="end" class="xl">1997<tspan class="xk">年</tspan></text>
<text transform="translate(308.6,374.1) rotate(-70)" text-anchor="end" class="xl">1998<tspan class="xk">年</tspan></text>
<text transform="translate(385.9,374.1) rotate(-70)" text-anchor="end" class="xl">1999<tspan class="xk">年</tspan></text>
<text transform="translate(463.2,374.1) rotate(-70)" text-anchor="end" class="xl">2000<tspan class="xk">年</tspan></text>
<text transform="translate(540.5,374.1) rotate(-70)" text-anchor="end" class="xl">2001<tspan class="xk">年</tspan></text>
<text transform="translate(617.8,374.1) rotate(-70)" text-anchor="end" class="xl">2002<tspan class="xk">年</tspan></text>
<text transform="translate(695.1,374.1) rotate(-70)" text-anchor="end" class="xl">2003<tspan class="xk">年</tspan></text>
<text transform="translate(772.4,374.1) rotate(-70)" text-anchor="end" class="xl">2004<tspan class="xk">年</tspan></text>
<text transform="translate(849.7,374.1) rotate(-70)" text-anchor="end" class="xl">2004<tspan class="xk">年</tspan></text>
<line x1="885.5" x2="921.5" y1="222.5" y2="222.5" stroke="#FF0000" stroke-width="3" stroke-linecap="round"/>
<text x="927.5" y="229.2" class="lg">ドル建て</text>
<line x1="885.5" x2="921.5" y1="258" y2="258" stroke="#0070C0" stroke-width="3" stroke-linecap="round"/>
<text x="927.5" y="264.7" class="lg">円建て</text>
<line x1="885.5" x2="921.5" y1="293.8" y2="293.8" stroke="#FFC000" stroke-width="3" stroke-linecap="round"/>
<text x="927.5" y="300.5" class="lg">一括元本</text>
<text class="title" y="55.6"><tspan x="310" class="tn">1995</tspan><tspan x="380.5" class="tk">年</tspan><tspan x="415.5" class="tk" style="font-weight:500">～</tspan><tspan x="452" class="tn">2004</tspan><tspan x="522" class="tk">年</tspan><tspan x="558" dy="2.4" class="tn" style="font-size:28px;stroke:#000;stroke-width:1.8px">_</tspan><tspan x="574" dy="-2.4" class="tk">一</tspan><tspan x="610" class="tk">括</tspan><tspan x="646" class="tk">投</tspan><tspan x="681.5" class="tk">資</tspan></text>
</svg>
</body></html>
